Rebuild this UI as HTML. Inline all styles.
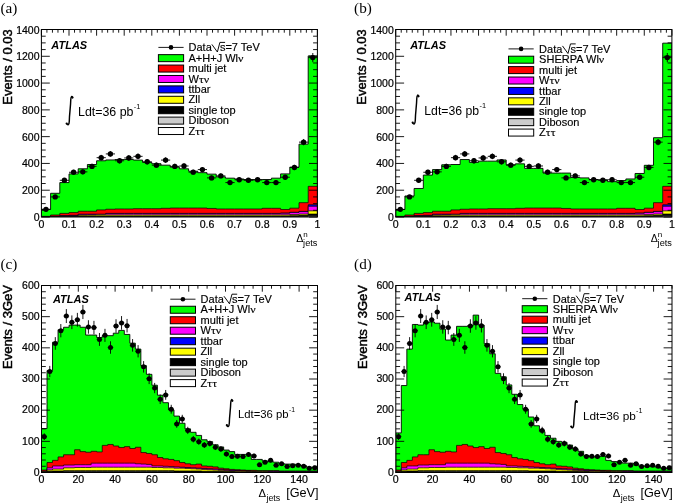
<!DOCTYPE html>
<html><head><meta charset="utf-8"><style>
html,body{margin:0;padding:0;background:#fff;}
svg{display:block;filter:blur(0.3px);}
text{font-family:"Liberation Sans",sans-serif;fill:#000;}
.tl{font-size:10px;stroke:#000;stroke-width:0.2px;}
.lg{font-size:10.3px;stroke:#000;stroke-width:0.15px;}
.at{font-size:10.3px;font-weight:bold;font-style:italic;}
.yt{font-size:12.4px;stroke:#000;stroke-width:0.45px;}
.gk{font-family:"Liberation Serif",serif;font-size:11.2px;}
.pl{font-family:"Liberation Serif",serif;font-size:15.2px;}
</style></head><body>
<svg width="675" height="504" viewBox="0 0 675 504">
<rect width="675" height="504" fill="#fff"/>
<clipPath id="ca"><rect x="41.4" y="29.5" width="276" height="187.5"/></clipPath>
<g clip-path="url(#ca)">
<path d="M41.4 217 L41.4 209.37 L50.6 209.37 L50.6 193.29 L59.8 193.29 L59.8 182.58 L69 182.58 L69 173.88 L78.2 173.88 L78.2 168.79 L87.4 168.79 L87.4 164.5 L96.6 164.5 L96.6 160.75 L105.8 160.75 L105.8 159.95 L115 159.95 L115 159.54 L124.2 159.54 L124.2 159.54 L133.4 159.54 L133.4 160.08 L142.6 160.08 L142.6 162.36 L151.8 162.36 L151.8 163.7 L161 163.7 L161 165.17 L170.2 165.17 L170.2 167.18 L179.4 167.18 L179.4 168.79 L188.6 168.79 L188.6 171.2 L197.8 171.2 L197.8 172.67 L207 172.67 L207 174.14 L216.2 174.14 L216.2 176.82 L225.4 176.82 L225.4 178.16 L234.6 178.16 L234.6 178.96 L243.8 178.96 L243.8 179.5 L253 179.5 L253 179.77 L262.2 179.77 L262.2 179.5 L271.4 179.5 L271.4 178.16 L280.6 178.16 L280.6 173.88 L289.8 173.88 L289.8 167.18 L299 167.18 L299 144.14 L308.2 144.14 L308.2 55.88 L317.4 55.88 L317.4 217 Z" fill="#00ff00" stroke="#000" stroke-width="0.9"/>
<path d="M41.4 217 L41.4 216.33 L50.6 216.33 L50.6 214.99 L59.8 214.99 L59.8 213.38 L69 213.38 L69 212.58 L78.2 212.58 L78.2 211.24 L87.4 211.24 L87.4 211.24 L96.6 211.24 L96.6 209.9 L105.8 209.9 L105.8 209.23 L115 209.23 L115 208.96 L124.2 208.96 L124.2 208.96 L133.4 208.96 L133.4 208.7 L142.6 208.7 L142.6 208.7 L151.8 208.7 L151.8 208.7 L161 208.7 L161 208.29 L170.2 208.29 L170.2 208.03 L179.4 208.03 L179.4 208.03 L188.6 208.03 L188.6 208.03 L197.8 208.03 L197.8 208.03 L207 208.03 L207 208.43 L216.2 208.43 L216.2 208.96 L225.4 208.96 L225.4 208.96 L234.6 208.96 L234.6 208.96 L243.8 208.96 L243.8 208.96 L253 208.96 L253 208.96 L262.2 208.96 L262.2 208.29 L271.4 208.29 L271.4 208.29 L280.6 208.29 L280.6 209.5 L289.8 209.5 L289.8 208.16 L299 208.16 L299 202.67 L308.2 202.67 L308.2 186.33 L317.4 186.33 L317.4 217 Z" fill="#ff0000" stroke="#000" stroke-width="0.7"/>
<path d="M41.4 217 L41.4 216.73 L50.6 216.73 L50.6 216.33 L59.8 216.33 L59.8 215.66 L69 215.66 L69 215.39 L78.2 215.39 L78.2 214.32 L87.4 214.32 L87.4 214.32 L96.6 214.32 L96.6 214.32 L105.8 214.32 L105.8 213.38 L115 213.38 L115 213.38 L124.2 213.38 L124.2 213.38 L133.4 213.38 L133.4 213.38 L142.6 213.38 L142.6 213.38 L151.8 213.38 L151.8 213.38 L161 213.38 L161 213.38 L170.2 213.38 L170.2 213.38 L179.4 213.38 L179.4 213.38 L188.6 213.38 L188.6 213.38 L197.8 213.38 L197.8 213.38 L207 213.38 L207 213.38 L216.2 213.38 L216.2 213.38 L225.4 213.38 L225.4 213.38 L234.6 213.38 L234.6 213.38 L243.8 213.38 L243.8 213.38 L253 213.38 L253 213.38 L262.2 213.38 L262.2 213.38 L271.4 213.38 L271.4 213.38 L280.6 213.38 L280.6 213.12 L289.8 213.12 L289.8 212.31 L299 212.31 L299 211.38 L308.2 211.38 L308.2 204.81 L317.4 204.81 L317.4 217 Z" fill="#0000ff" stroke="#000" stroke-width="0.7"/>
<path d="M41.4 217 L41.4 216.73 L50.6 216.73 L50.6 216.33 L59.8 216.33 L59.8 215.66 L69 215.66 L69 215.39 L78.2 215.39 L78.2 214.32 L87.4 214.32 L87.4 214.32 L96.6 214.32 L96.6 214.32 L105.8 214.32 L105.8 213.52 L115 213.52 L115 213.52 L124.2 213.52 L124.2 213.52 L133.4 213.52 L133.4 213.52 L142.6 213.52 L142.6 213.52 L151.8 213.52 L151.8 213.52 L161 213.52 L161 213.52 L170.2 213.52 L170.2 213.52 L179.4 213.52 L179.4 213.52 L188.6 213.52 L188.6 213.52 L197.8 213.52 L197.8 213.52 L207 213.52 L207 213.52 L216.2 213.52 L216.2 213.52 L225.4 213.52 L225.4 213.52 L234.6 213.52 L234.6 213.52 L243.8 213.52 L243.8 213.52 L253 213.52 L253 213.52 L262.2 213.52 L262.2 213.52 L271.4 213.52 L271.4 213.52 L280.6 213.52 L280.6 213.25 L289.8 213.25 L289.8 212.45 L299 212.45 L299 211.64 L308.2 211.64 L308.2 206.29 L317.4 206.29 L317.4 217 Z" fill="#ff00ff" stroke="#000" stroke-width="0.7"/>
<path d="M41.4 217 L41.4 216.87 L50.6 216.87 L50.6 216.6 L59.8 216.6 L59.8 216.2 L69 216.2 L69 215.93 L78.2 215.93 L78.2 215.12 L87.4 215.12 L87.4 214.99 L96.6 214.99 L96.6 214.86 L105.8 214.86 L105.8 214.86 L115 214.86 L115 214.86 L124.2 214.86 L124.2 214.86 L133.4 214.86 L133.4 214.86 L142.6 214.86 L142.6 214.86 L151.8 214.86 L151.8 214.86 L161 214.86 L161 214.86 L170.2 214.86 L170.2 214.86 L179.4 214.86 L179.4 214.86 L188.6 214.86 L188.6 214.86 L197.8 214.86 L197.8 214.86 L207 214.86 L207 214.86 L216.2 214.86 L216.2 214.86 L225.4 214.86 L225.4 214.86 L234.6 214.86 L234.6 214.86 L243.8 214.86 L243.8 214.86 L253 214.86 L253 214.86 L262.2 214.86 L262.2 214.86 L271.4 214.86 L271.4 214.86 L280.6 214.86 L280.6 214.86 L289.8 214.86 L289.8 214.46 L299 214.46 L299 214.05 L308.2 214.05 L308.2 210.84 L317.4 210.84 L317.4 217 Z" fill="#ffff00" stroke="#000" stroke-width="0.7"/>
<path d="M41.4 217 L41.4 216.87 L50.6 216.87 L50.6 216.73 L59.8 216.73 L59.8 216.46 L69 216.46 L69 216.33 L78.2 216.33 L78.2 215.93 L87.4 215.93 L87.4 215.93 L96.6 215.93 L96.6 215.93 L105.8 215.93 L105.8 215.93 L115 215.93 L115 215.93 L124.2 215.93 L124.2 215.93 L133.4 215.93 L133.4 215.93 L142.6 215.93 L142.6 215.93 L151.8 215.93 L151.8 215.93 L161 215.93 L161 215.93 L170.2 215.93 L170.2 215.93 L179.4 215.93 L179.4 215.93 L188.6 215.93 L188.6 215.93 L197.8 215.93 L197.8 215.93 L207 215.93 L207 215.93 L216.2 215.93 L216.2 215.93 L225.4 215.93 L225.4 215.93 L234.6 215.93 L234.6 215.93 L243.8 215.93 L243.8 215.93 L253 215.93 L253 215.93 L262.2 215.93 L262.2 215.93 L271.4 215.93 L271.4 215.93 L280.6 215.93 L280.6 215.93 L289.8 215.93 L289.8 215.66 L299 215.66 L299 215.26 L308.2 215.26 L308.2 214.05 L317.4 214.05 L317.4 217 Z" fill="#000000" stroke="#000" stroke-width="0.7"/>
<path d="M41.4 217 L41.4 217 L50.6 217 L50.6 216.87 L59.8 216.87 L59.8 216.6 L69 216.6 L69 216.6 L78.2 216.6 L78.2 216.6 L87.4 216.6 L87.4 216.6 L96.6 216.6 L96.6 216.6 L105.8 216.6 L105.8 216.6 L115 216.6 L115 216.6 L124.2 216.6 L124.2 216.6 L133.4 216.6 L133.4 216.6 L142.6 216.6 L142.6 216.6 L151.8 216.6 L151.8 216.6 L161 216.6 L161 216.6 L170.2 216.6 L170.2 216.6 L179.4 216.6 L179.4 216.6 L188.6 216.6 L188.6 216.6 L197.8 216.6 L197.8 216.6 L207 216.6 L207 216.6 L216.2 216.6 L216.2 216.6 L225.4 216.6 L225.4 216.6 L234.6 216.6 L234.6 216.6 L243.8 216.6 L243.8 216.6 L253 216.6 L253 216.6 L262.2 216.6 L262.2 216.6 L271.4 216.6 L271.4 216.6 L280.6 216.6 L280.6 216.6 L289.8 216.6 L289.8 216.46 L299 216.46 L299 216.33 L308.2 216.33 L308.2 215.66 L317.4 215.66 L317.4 217 Z" fill="#cccccc" stroke="#000" stroke-width="0.7"/>
<path d="M41.4 209.37H50.6M46 208.35V210.38" stroke="#000" stroke-width="0.9"/>
<circle cx="46" cy="209.37" r="2.7"/>
<path d="M50.6 196.91H59.8M55.2 195.27V198.55" stroke="#000" stroke-width="0.9"/>
<circle cx="55.2" cy="196.91" r="2.7"/>
<path d="M59.8 180.3H69M64.4 178.09V182.52" stroke="#000" stroke-width="0.9"/>
<circle cx="64.4" cy="180.3" r="2.7"/>
<path d="M69 172.27H78.2M73.6 169.82V174.72" stroke="#000" stroke-width="0.9"/>
<circle cx="73.6" cy="172.27" r="2.7"/>
<path d="M78.2 171.87H87.4M82.8 169.41V174.32" stroke="#000" stroke-width="0.9"/>
<circle cx="82.8" cy="171.87" r="2.7"/>
<path d="M87.4 166.38H96.6M92 163.77V168.98" stroke="#000" stroke-width="0.9"/>
<circle cx="92" cy="166.38" r="2.7"/>
<path d="M96.6 157.67H105.8M101.2 154.85V160.49" stroke="#000" stroke-width="0.9"/>
<circle cx="101.2" cy="157.67" r="2.7"/>
<path d="M105.8 153.92H115M110.4 151.01V156.83" stroke="#000" stroke-width="0.9"/>
<circle cx="110.4" cy="153.92" r="2.7"/>
<path d="M115 160.75H124.2M119.6 158.01V163.49" stroke="#000" stroke-width="0.9"/>
<circle cx="119.6" cy="160.75" r="2.7"/>
<path d="M124.2 157.94H133.4M128.8 155.12V160.75" stroke="#000" stroke-width="0.9"/>
<circle cx="128.8" cy="157.94" r="2.7"/>
<path d="M133.4 156.33H142.6M138 153.48V159.18" stroke="#000" stroke-width="0.9"/>
<circle cx="138" cy="156.33" r="2.7"/>
<path d="M142.6 161.82H151.8M147.2 159.1V164.54" stroke="#000" stroke-width="0.9"/>
<circle cx="147.2" cy="161.82" r="2.7"/>
<path d="M151.8 165.17H161M156.4 162.53V167.8" stroke="#000" stroke-width="0.9"/>
<circle cx="156.4" cy="165.17" r="2.7"/>
<path d="M161 160.08H170.2M165.6 157.32V162.84" stroke="#000" stroke-width="0.9"/>
<circle cx="165.6" cy="160.08" r="2.7"/>
<path d="M170.2 166.38H179.4M174.8 163.77V168.98" stroke="#000" stroke-width="0.9"/>
<circle cx="174.8" cy="166.38" r="2.7"/>
<path d="M179.4 165.97H188.6M184 163.36V168.59" stroke="#000" stroke-width="0.9"/>
<circle cx="184" cy="165.97" r="2.7"/>
<path d="M188.6 172.13H197.8M193.2 169.68V174.59" stroke="#000" stroke-width="0.9"/>
<circle cx="193.2" cy="172.13" r="2.7"/>
<path d="M197.8 169.59H207M202.4 167.07V172.11" stroke="#000" stroke-width="0.9"/>
<circle cx="202.4" cy="169.59" r="2.7"/>
<path d="M207 177.89H216.2M211.6 175.6V180.18" stroke="#000" stroke-width="0.9"/>
<circle cx="211.6" cy="177.89" r="2.7"/>
<path d="M216.2 175.88H225.4M220.8 173.54V178.23" stroke="#000" stroke-width="0.9"/>
<circle cx="220.8" cy="175.88" r="2.7"/>
<path d="M225.4 182.58H234.6M230 180.43V184.73" stroke="#000" stroke-width="0.9"/>
<circle cx="230" cy="182.58" r="2.7"/>
<path d="M234.6 179.77H243.8M239.2 177.53V182" stroke="#000" stroke-width="0.9"/>
<circle cx="239.2" cy="179.77" r="2.7"/>
<path d="M243.8 180.3H253M248.4 178.09V182.52" stroke="#000" stroke-width="0.9"/>
<circle cx="248.4" cy="180.3" r="2.7"/>
<path d="M253 179.77H262.2M257.6 177.53V182" stroke="#000" stroke-width="0.9"/>
<circle cx="257.6" cy="179.77" r="2.7"/>
<path d="M262.2 182.58H271.4M266.8 180.43V184.73" stroke="#000" stroke-width="0.9"/>
<circle cx="266.8" cy="182.58" r="2.7"/>
<path d="M271.4 182.58H280.6M276 180.43V184.73" stroke="#000" stroke-width="0.9"/>
<circle cx="276" cy="182.58" r="2.7"/>
<path d="M280.6 177.22H289.8M285.2 174.92V179.53" stroke="#000" stroke-width="0.9"/>
<circle cx="285.2" cy="177.22" r="2.7"/>
<path d="M289.8 167.45H299M294.4 164.87V170.02" stroke="#000" stroke-width="0.9"/>
<circle cx="294.4" cy="167.45" r="2.7"/>
<path d="M299 142.13H308.2M303.6 138.97V145.3" stroke="#000" stroke-width="0.9"/>
<circle cx="303.6" cy="142.13" r="2.7"/>
<path d="M308.2 57.62H317.4M312.8 53V62.25" stroke="#000" stroke-width="0.9"/>
<circle cx="312.8" cy="57.62" r="2.7"/>
</g>
<rect x="41.4" y="29.5" width="276" height="187.5" fill="none" stroke="#000" stroke-width="1"/>
<path d="M41.4 217h8.4 M317.4 217h-8.4 M41.4 210.3h4.3 M317.4 210.3h-4.3 M41.4 203.61h4.3 M317.4 203.61h-4.3 M41.4 196.91h4.3 M317.4 196.91h-4.3 M41.4 190.21h8.4 M317.4 190.21h-8.4 M41.4 183.52h4.3 M317.4 183.52h-4.3 M41.4 176.82h4.3 M317.4 176.82h-4.3 M41.4 170.12h4.3 M317.4 170.12h-4.3 M41.4 163.43h8.4 M317.4 163.43h-8.4 M41.4 156.73h4.3 M317.4 156.73h-4.3 M41.4 150.04h4.3 M317.4 150.04h-4.3 M41.4 143.34h4.3 M317.4 143.34h-4.3 M41.4 136.64h8.4 M317.4 136.64h-8.4 M41.4 129.95h4.3 M317.4 129.95h-4.3 M41.4 123.25h4.3 M317.4 123.25h-4.3 M41.4 116.55h4.3 M317.4 116.55h-4.3 M41.4 109.86h8.4 M317.4 109.86h-8.4 M41.4 103.16h4.3 M317.4 103.16h-4.3 M41.4 96.46h4.3 M317.4 96.46h-4.3 M41.4 89.77h4.3 M317.4 89.77h-4.3 M41.4 83.07h8.4 M317.4 83.07h-8.4 M41.4 76.38h4.3 M317.4 76.38h-4.3 M41.4 69.68h4.3 M317.4 69.68h-4.3 M41.4 62.98h4.3 M317.4 62.98h-4.3 M41.4 56.29h8.4 M317.4 56.29h-8.4 M41.4 49.59h4.3 M317.4 49.59h-4.3 M41.4 42.89h4.3 M317.4 42.89h-4.3 M41.4 36.2h4.3 M317.4 36.2h-4.3 M41.4 29.5h8.4 M317.4 29.5h-8.4 M41.4 29.5v6.2 M46.92 29.5v3.2 M52.44 29.5v3.2 M57.96 29.5v3.2 M63.48 29.5v3.2 M69 29.5v6.2 M74.52 29.5v3.2 M80.04 29.5v3.2 M85.56 29.5v3.2 M91.08 29.5v3.2 M96.6 29.5v6.2 M102.12 29.5v3.2 M107.64 29.5v3.2 M113.16 29.5v3.2 M118.68 29.5v3.2 M124.2 29.5v6.2 M129.72 29.5v3.2 M135.24 29.5v3.2 M140.76 29.5v3.2 M146.28 29.5v3.2 M151.8 29.5v6.2 M157.32 29.5v3.2 M162.84 29.5v3.2 M168.36 29.5v3.2 M173.88 29.5v3.2 M179.4 29.5v6.2 M184.92 29.5v3.2 M190.44 29.5v3.2 M195.96 29.5v3.2 M201.48 29.5v3.2 M207 29.5v6.2 M212.52 29.5v3.2 M218.04 29.5v3.2 M223.56 29.5v3.2 M229.08 29.5v3.2 M234.6 29.5v6.2 M240.12 29.5v3.2 M245.64 29.5v3.2 M251.16 29.5v3.2 M256.68 29.5v3.2 M262.2 29.5v6.2 M267.72 29.5v3.2 M273.24 29.5v3.2 M278.76 29.5v3.2 M284.28 29.5v3.2 M289.8 29.5v6.2 M295.32 29.5v3.2 M300.84 29.5v3.2 M306.36 29.5v3.2 M311.88 29.5v3.2 M317.4 29.5v6.2" stroke="#000" stroke-width="0.9" fill="none"/>
<text transform="translate(39.5 221) scale(1.05 1)" class="tl" text-anchor="end">0</text>
<text transform="translate(39.5 194.21) scale(1.05 1)" class="tl" text-anchor="end">200</text>
<text transform="translate(39.5 167.43) scale(1.05 1)" class="tl" text-anchor="end">400</text>
<text transform="translate(39.5 140.64) scale(1.05 1)" class="tl" text-anchor="end">600</text>
<text transform="translate(39.5 113.86) scale(1.05 1)" class="tl" text-anchor="end">800</text>
<text transform="translate(39.5 87.07) scale(1.05 1)" class="tl" text-anchor="end">1000</text>
<text transform="translate(39.5 60.29) scale(1.05 1)" class="tl" text-anchor="end">1200</text>
<text transform="translate(39.5 33.5) scale(1.05 1)" class="tl" text-anchor="end">1400</text>
<text transform="translate(41.4 227.6) scale(1.06 1)" class="tl" text-anchor="middle">0</text>
<text transform="translate(69 227.6) scale(1.06 1)" class="tl" text-anchor="middle">0.1</text>
<text transform="translate(96.6 227.6) scale(1.06 1)" class="tl" text-anchor="middle">0.2</text>
<text transform="translate(124.2 227.6) scale(1.06 1)" class="tl" text-anchor="middle">0.3</text>
<text transform="translate(151.8 227.6) scale(1.06 1)" class="tl" text-anchor="middle">0.4</text>
<text transform="translate(179.4 227.6) scale(1.06 1)" class="tl" text-anchor="middle">0.5</text>
<text transform="translate(207 227.6) scale(1.06 1)" class="tl" text-anchor="middle">0.6</text>
<text transform="translate(234.6 227.6) scale(1.06 1)" class="tl" text-anchor="middle">0.7</text>
<text transform="translate(262.2 227.6) scale(1.06 1)" class="tl" text-anchor="middle">0.8</text>
<text transform="translate(289.8 227.6) scale(1.06 1)" class="tl" text-anchor="middle">0.9</text>
<text transform="translate(317.4 227.6) scale(1.06 1)" class="tl" text-anchor="middle">1</text>
<clipPath id="cb"><rect x="395.7" y="29.5" width="276.2" height="187.5"/></clipPath>
<g clip-path="url(#cb)">
<path d="M395.7 217 L395.7 209.5 L404.91 209.5 L404.91 195.97 L414.11 195.97 L414.11 188.47 L423.32 188.47 L423.32 175.08 L432.53 175.08 L432.53 169.59 L441.73 169.59 L441.73 164.77 L450.94 164.77 L450.94 164.5 L460.15 164.5 L460.15 159.54 L469.35 159.54 L469.35 162.36 L478.56 162.36 L478.56 161.15 L487.77 161.15 L487.77 161.15 L496.97 161.15 L496.97 159.95 L506.18 159.95 L506.18 164.77 L515.39 164.77 L515.39 163.83 L524.59 163.83 L524.59 168.38 L533.8 168.38 L533.8 168.38 L543.01 168.38 L543.01 173.07 L552.21 173.07 L552.21 173.07 L561.42 173.07 L561.42 173.07 L570.63 173.07 L570.63 177.49 L579.83 177.49 L579.83 177.89 L589.04 177.89 L589.04 179.5 L598.25 179.5 L598.25 179.77 L607.45 179.77 L607.45 181.64 L616.66 181.64 L616.66 180.57 L625.87 180.57 L625.87 178.96 L635.07 178.96 L635.07 173.47 L644.28 173.47 L644.28 165.3 L653.49 165.3 L653.49 137.71 L662.69 137.71 L662.69 43.16 L671.9 43.16 L671.9 217 Z" fill="#00ff00" stroke="#000" stroke-width="0.9"/>
<path d="M395.7 217 L395.7 216.33 L404.91 216.33 L404.91 214.99 L414.11 214.99 L414.11 213.38 L423.32 213.38 L423.32 212.58 L432.53 212.58 L432.53 211.24 L441.73 211.24 L441.73 211.24 L450.94 211.24 L450.94 209.9 L460.15 209.9 L460.15 209.23 L469.35 209.23 L469.35 208.96 L478.56 208.96 L478.56 208.96 L487.77 208.96 L487.77 208.7 L496.97 208.7 L496.97 208.7 L506.18 208.7 L506.18 208.7 L515.39 208.7 L515.39 208.29 L524.59 208.29 L524.59 208.03 L533.8 208.03 L533.8 208.03 L543.01 208.03 L543.01 208.03 L552.21 208.03 L552.21 208.03 L561.42 208.03 L561.42 208.43 L570.63 208.43 L570.63 208.96 L579.83 208.96 L579.83 208.96 L589.04 208.96 L589.04 208.96 L598.25 208.96 L598.25 208.96 L607.45 208.96 L607.45 208.96 L616.66 208.96 L616.66 208.29 L625.87 208.29 L625.87 208.29 L635.07 208.29 L635.07 209.5 L644.28 209.5 L644.28 208.16 L653.49 208.16 L653.49 202.67 L662.69 202.67 L662.69 186.33 L671.9 186.33 L671.9 217 Z" fill="#ff0000" stroke="#000" stroke-width="0.7"/>
<path d="M395.7 217 L395.7 216.73 L404.91 216.73 L404.91 216.33 L414.11 216.33 L414.11 215.66 L423.32 215.66 L423.32 215.39 L432.53 215.39 L432.53 214.32 L441.73 214.32 L441.73 214.32 L450.94 214.32 L450.94 214.32 L460.15 214.32 L460.15 213.38 L469.35 213.38 L469.35 213.38 L478.56 213.38 L478.56 213.38 L487.77 213.38 L487.77 213.38 L496.97 213.38 L496.97 213.38 L506.18 213.38 L506.18 213.38 L515.39 213.38 L515.39 213.38 L524.59 213.38 L524.59 213.38 L533.8 213.38 L533.8 213.38 L543.01 213.38 L543.01 213.38 L552.21 213.38 L552.21 213.38 L561.42 213.38 L561.42 213.38 L570.63 213.38 L570.63 213.38 L579.83 213.38 L579.83 213.38 L589.04 213.38 L589.04 213.38 L598.25 213.38 L598.25 213.38 L607.45 213.38 L607.45 213.38 L616.66 213.38 L616.66 213.38 L625.87 213.38 L625.87 213.38 L635.07 213.38 L635.07 213.12 L644.28 213.12 L644.28 212.31 L653.49 212.31 L653.49 211.38 L662.69 211.38 L662.69 204.81 L671.9 204.81 L671.9 217 Z" fill="#0000ff" stroke="#000" stroke-width="0.7"/>
<path d="M395.7 217 L395.7 216.73 L404.91 216.73 L404.91 216.33 L414.11 216.33 L414.11 215.66 L423.32 215.66 L423.32 215.39 L432.53 215.39 L432.53 214.32 L441.73 214.32 L441.73 214.32 L450.94 214.32 L450.94 214.32 L460.15 214.32 L460.15 213.52 L469.35 213.52 L469.35 213.52 L478.56 213.52 L478.56 213.52 L487.77 213.52 L487.77 213.52 L496.97 213.52 L496.97 213.52 L506.18 213.52 L506.18 213.52 L515.39 213.52 L515.39 213.52 L524.59 213.52 L524.59 213.52 L533.8 213.52 L533.8 213.52 L543.01 213.52 L543.01 213.52 L552.21 213.52 L552.21 213.52 L561.42 213.52 L561.42 213.52 L570.63 213.52 L570.63 213.52 L579.83 213.52 L579.83 213.52 L589.04 213.52 L589.04 213.52 L598.25 213.52 L598.25 213.52 L607.45 213.52 L607.45 213.52 L616.66 213.52 L616.66 213.52 L625.87 213.52 L625.87 213.52 L635.07 213.52 L635.07 213.25 L644.28 213.25 L644.28 212.45 L653.49 212.45 L653.49 211.64 L662.69 211.64 L662.69 206.29 L671.9 206.29 L671.9 217 Z" fill="#ff00ff" stroke="#000" stroke-width="0.7"/>
<path d="M395.7 217 L395.7 216.87 L404.91 216.87 L404.91 216.6 L414.11 216.6 L414.11 216.2 L423.32 216.2 L423.32 215.93 L432.53 215.93 L432.53 215.12 L441.73 215.12 L441.73 214.99 L450.94 214.99 L450.94 214.86 L460.15 214.86 L460.15 214.86 L469.35 214.86 L469.35 214.86 L478.56 214.86 L478.56 214.86 L487.77 214.86 L487.77 214.86 L496.97 214.86 L496.97 214.86 L506.18 214.86 L506.18 214.86 L515.39 214.86 L515.39 214.86 L524.59 214.86 L524.59 214.86 L533.8 214.86 L533.8 214.86 L543.01 214.86 L543.01 214.86 L552.21 214.86 L552.21 214.86 L561.42 214.86 L561.42 214.86 L570.63 214.86 L570.63 214.86 L579.83 214.86 L579.83 214.86 L589.04 214.86 L589.04 214.86 L598.25 214.86 L598.25 214.86 L607.45 214.86 L607.45 214.86 L616.66 214.86 L616.66 214.86 L625.87 214.86 L625.87 214.86 L635.07 214.86 L635.07 214.86 L644.28 214.86 L644.28 214.46 L653.49 214.46 L653.49 214.05 L662.69 214.05 L662.69 210.84 L671.9 210.84 L671.9 217 Z" fill="#ffff00" stroke="#000" stroke-width="0.7"/>
<path d="M395.7 217 L395.7 216.87 L404.91 216.87 L404.91 216.73 L414.11 216.73 L414.11 216.46 L423.32 216.46 L423.32 216.33 L432.53 216.33 L432.53 215.93 L441.73 215.93 L441.73 215.93 L450.94 215.93 L450.94 215.93 L460.15 215.93 L460.15 215.93 L469.35 215.93 L469.35 215.93 L478.56 215.93 L478.56 215.93 L487.77 215.93 L487.77 215.93 L496.97 215.93 L496.97 215.93 L506.18 215.93 L506.18 215.93 L515.39 215.93 L515.39 215.93 L524.59 215.93 L524.59 215.93 L533.8 215.93 L533.8 215.93 L543.01 215.93 L543.01 215.93 L552.21 215.93 L552.21 215.93 L561.42 215.93 L561.42 215.93 L570.63 215.93 L570.63 215.93 L579.83 215.93 L579.83 215.93 L589.04 215.93 L589.04 215.93 L598.25 215.93 L598.25 215.93 L607.45 215.93 L607.45 215.93 L616.66 215.93 L616.66 215.93 L625.87 215.93 L625.87 215.93 L635.07 215.93 L635.07 215.93 L644.28 215.93 L644.28 215.66 L653.49 215.66 L653.49 215.26 L662.69 215.26 L662.69 214.05 L671.9 214.05 L671.9 217 Z" fill="#000000" stroke="#000" stroke-width="0.7"/>
<path d="M395.7 217 L395.7 217 L404.91 217 L404.91 216.87 L414.11 216.87 L414.11 216.6 L423.32 216.6 L423.32 216.6 L432.53 216.6 L432.53 216.6 L441.73 216.6 L441.73 216.6 L450.94 216.6 L450.94 216.6 L460.15 216.6 L460.15 216.6 L469.35 216.6 L469.35 216.6 L478.56 216.6 L478.56 216.6 L487.77 216.6 L487.77 216.6 L496.97 216.6 L496.97 216.6 L506.18 216.6 L506.18 216.6 L515.39 216.6 L515.39 216.6 L524.59 216.6 L524.59 216.6 L533.8 216.6 L533.8 216.6 L543.01 216.6 L543.01 216.6 L552.21 216.6 L552.21 216.6 L561.42 216.6 L561.42 216.6 L570.63 216.6 L570.63 216.6 L579.83 216.6 L579.83 216.6 L589.04 216.6 L589.04 216.6 L598.25 216.6 L598.25 216.6 L607.45 216.6 L607.45 216.6 L616.66 216.6 L616.66 216.6 L625.87 216.6 L625.87 216.6 L635.07 216.6 L635.07 216.6 L644.28 216.6 L644.28 216.46 L653.49 216.46 L653.49 216.33 L662.69 216.33 L662.69 215.66 L671.9 215.66 L671.9 217 Z" fill="#cccccc" stroke="#000" stroke-width="0.7"/>
<path d="M395.7 209.37H404.91M400.3 208.35V210.38" stroke="#000" stroke-width="0.9"/>
<circle cx="400.3" cy="209.37" r="2.7"/>
<path d="M404.91 196.91H414.11M409.51 195.27V198.55" stroke="#000" stroke-width="0.9"/>
<circle cx="409.51" cy="196.91" r="2.7"/>
<path d="M414.11 180.3H423.32M418.72 178.09V182.52" stroke="#000" stroke-width="0.9"/>
<circle cx="418.72" cy="180.3" r="2.7"/>
<path d="M423.32 172.27H432.53M427.92 169.82V174.72" stroke="#000" stroke-width="0.9"/>
<circle cx="427.92" cy="172.27" r="2.7"/>
<path d="M432.53 171.87H441.73M437.13 169.41V174.32" stroke="#000" stroke-width="0.9"/>
<circle cx="437.13" cy="171.87" r="2.7"/>
<path d="M441.73 166.38H450.94M446.34 163.77V168.98" stroke="#000" stroke-width="0.9"/>
<circle cx="446.34" cy="166.38" r="2.7"/>
<path d="M450.94 157.67H460.15M455.54 154.85V160.49" stroke="#000" stroke-width="0.9"/>
<circle cx="455.54" cy="157.67" r="2.7"/>
<path d="M460.15 153.92H469.35M464.75 151.01V156.83" stroke="#000" stroke-width="0.9"/>
<circle cx="464.75" cy="153.92" r="2.7"/>
<path d="M469.35 160.75H478.56M473.96 158.01V163.49" stroke="#000" stroke-width="0.9"/>
<circle cx="473.96" cy="160.75" r="2.7"/>
<path d="M478.56 157.94H487.77M483.16 155.12V160.75" stroke="#000" stroke-width="0.9"/>
<circle cx="483.16" cy="157.94" r="2.7"/>
<path d="M487.77 156.33H496.97M492.37 153.48V159.18" stroke="#000" stroke-width="0.9"/>
<circle cx="492.37" cy="156.33" r="2.7"/>
<path d="M496.97 161.82H506.18M501.58 159.1V164.54" stroke="#000" stroke-width="0.9"/>
<circle cx="501.58" cy="161.82" r="2.7"/>
<path d="M506.18 165.17H515.39M510.78 162.53V167.8" stroke="#000" stroke-width="0.9"/>
<circle cx="510.78" cy="165.17" r="2.7"/>
<path d="M515.39 160.08H524.59M519.99 157.32V162.84" stroke="#000" stroke-width="0.9"/>
<circle cx="519.99" cy="160.08" r="2.7"/>
<path d="M524.59 166.38H533.8M529.2 163.77V168.98" stroke="#000" stroke-width="0.9"/>
<circle cx="529.2" cy="166.38" r="2.7"/>
<path d="M533.8 165.97H543.01M538.4 163.36V168.59" stroke="#000" stroke-width="0.9"/>
<circle cx="538.4" cy="165.97" r="2.7"/>
<path d="M543.01 172.13H552.21M547.61 169.68V174.59" stroke="#000" stroke-width="0.9"/>
<circle cx="547.61" cy="172.13" r="2.7"/>
<path d="M552.21 169.59H561.42M556.82 167.07V172.11" stroke="#000" stroke-width="0.9"/>
<circle cx="556.82" cy="169.59" r="2.7"/>
<path d="M561.42 177.89H570.63M566.02 175.6V180.18" stroke="#000" stroke-width="0.9"/>
<circle cx="566.02" cy="177.89" r="2.7"/>
<path d="M570.63 175.88H579.83M575.23 173.54V178.23" stroke="#000" stroke-width="0.9"/>
<circle cx="575.23" cy="175.88" r="2.7"/>
<path d="M579.83 182.58H589.04M584.44 180.43V184.73" stroke="#000" stroke-width="0.9"/>
<circle cx="584.44" cy="182.58" r="2.7"/>
<path d="M589.04 179.77H598.25M593.64 177.53V182" stroke="#000" stroke-width="0.9"/>
<circle cx="593.64" cy="179.77" r="2.7"/>
<path d="M598.25 180.3H607.45M602.85 178.09V182.52" stroke="#000" stroke-width="0.9"/>
<circle cx="602.85" cy="180.3" r="2.7"/>
<path d="M607.45 179.77H616.66M612.06 177.53V182" stroke="#000" stroke-width="0.9"/>
<circle cx="612.06" cy="179.77" r="2.7"/>
<path d="M616.66 182.58H625.87M621.26 180.43V184.73" stroke="#000" stroke-width="0.9"/>
<circle cx="621.26" cy="182.58" r="2.7"/>
<path d="M625.87 182.58H635.07M630.47 180.43V184.73" stroke="#000" stroke-width="0.9"/>
<circle cx="630.47" cy="182.58" r="2.7"/>
<path d="M635.07 177.22H644.28M639.68 174.92V179.53" stroke="#000" stroke-width="0.9"/>
<circle cx="639.68" cy="177.22" r="2.7"/>
<path d="M644.28 167.45H653.49M648.88 164.87V170.02" stroke="#000" stroke-width="0.9"/>
<circle cx="648.88" cy="167.45" r="2.7"/>
<path d="M653.49 142.13H662.69M658.09 138.97V145.3" stroke="#000" stroke-width="0.9"/>
<circle cx="658.09" cy="142.13" r="2.7"/>
<path d="M662.69 57.62H671.9M667.3 53V62.25" stroke="#000" stroke-width="0.9"/>
<circle cx="667.3" cy="57.62" r="2.7"/>
</g>
<rect x="395.7" y="29.5" width="276.2" height="187.5" fill="none" stroke="#000" stroke-width="1"/>
<path d="M395.7 217h8.4 M671.9 217h-8.4 M395.7 210.3h4.3 M671.9 210.3h-4.3 M395.7 203.61h4.3 M671.9 203.61h-4.3 M395.7 196.91h4.3 M671.9 196.91h-4.3 M395.7 190.21h8.4 M671.9 190.21h-8.4 M395.7 183.52h4.3 M671.9 183.52h-4.3 M395.7 176.82h4.3 M671.9 176.82h-4.3 M395.7 170.12h4.3 M671.9 170.12h-4.3 M395.7 163.43h8.4 M671.9 163.43h-8.4 M395.7 156.73h4.3 M671.9 156.73h-4.3 M395.7 150.04h4.3 M671.9 150.04h-4.3 M395.7 143.34h4.3 M671.9 143.34h-4.3 M395.7 136.64h8.4 M671.9 136.64h-8.4 M395.7 129.95h4.3 M671.9 129.95h-4.3 M395.7 123.25h4.3 M671.9 123.25h-4.3 M395.7 116.55h4.3 M671.9 116.55h-4.3 M395.7 109.86h8.4 M671.9 109.86h-8.4 M395.7 103.16h4.3 M671.9 103.16h-4.3 M395.7 96.46h4.3 M671.9 96.46h-4.3 M395.7 89.77h4.3 M671.9 89.77h-4.3 M395.7 83.07h8.4 M671.9 83.07h-8.4 M395.7 76.38h4.3 M671.9 76.38h-4.3 M395.7 69.68h4.3 M671.9 69.68h-4.3 M395.7 62.98h4.3 M671.9 62.98h-4.3 M395.7 56.29h8.4 M671.9 56.29h-8.4 M395.7 49.59h4.3 M671.9 49.59h-4.3 M395.7 42.89h4.3 M671.9 42.89h-4.3 M395.7 36.2h4.3 M671.9 36.2h-4.3 M395.7 29.5h8.4 M671.9 29.5h-8.4 M395.7 29.5v6.2 M401.22 29.5v3.2 M406.75 29.5v3.2 M412.27 29.5v3.2 M417.8 29.5v3.2 M423.32 29.5v6.2 M428.84 29.5v3.2 M434.37 29.5v3.2 M439.89 29.5v3.2 M445.42 29.5v3.2 M450.94 29.5v6.2 M456.46 29.5v3.2 M461.99 29.5v3.2 M467.51 29.5v3.2 M473.04 29.5v3.2 M478.56 29.5v6.2 M484.08 29.5v3.2 M489.61 29.5v3.2 M495.13 29.5v3.2 M500.66 29.5v3.2 M506.18 29.5v6.2 M511.7 29.5v3.2 M517.23 29.5v3.2 M522.75 29.5v3.2 M528.28 29.5v3.2 M533.8 29.5v6.2 M539.32 29.5v3.2 M544.85 29.5v3.2 M550.37 29.5v3.2 M555.9 29.5v3.2 M561.42 29.5v6.2 M566.94 29.5v3.2 M572.47 29.5v3.2 M577.99 29.5v3.2 M583.52 29.5v3.2 M589.04 29.5v6.2 M594.56 29.5v3.2 M600.09 29.5v3.2 M605.61 29.5v3.2 M611.14 29.5v3.2 M616.66 29.5v6.2 M622.18 29.5v3.2 M627.71 29.5v3.2 M633.23 29.5v3.2 M638.76 29.5v3.2 M644.28 29.5v6.2 M649.8 29.5v3.2 M655.33 29.5v3.2 M660.85 29.5v3.2 M666.38 29.5v3.2 M671.9 29.5v6.2" stroke="#000" stroke-width="0.9" fill="none"/>
<text transform="translate(393.8 221) scale(1.05 1)" class="tl" text-anchor="end">0</text>
<text transform="translate(393.8 194.21) scale(1.05 1)" class="tl" text-anchor="end">200</text>
<text transform="translate(393.8 167.43) scale(1.05 1)" class="tl" text-anchor="end">400</text>
<text transform="translate(393.8 140.64) scale(1.05 1)" class="tl" text-anchor="end">600</text>
<text transform="translate(393.8 113.86) scale(1.05 1)" class="tl" text-anchor="end">800</text>
<text transform="translate(393.8 87.07) scale(1.05 1)" class="tl" text-anchor="end">1000</text>
<text transform="translate(393.8 60.29) scale(1.05 1)" class="tl" text-anchor="end">1200</text>
<text transform="translate(393.8 33.5) scale(1.05 1)" class="tl" text-anchor="end">1400</text>
<text transform="translate(395.7 227.6) scale(1.06 1)" class="tl" text-anchor="middle">0</text>
<text transform="translate(423.32 227.6) scale(1.06 1)" class="tl" text-anchor="middle">0.1</text>
<text transform="translate(450.94 227.6) scale(1.06 1)" class="tl" text-anchor="middle">0.2</text>
<text transform="translate(478.56 227.6) scale(1.06 1)" class="tl" text-anchor="middle">0.3</text>
<text transform="translate(506.18 227.6) scale(1.06 1)" class="tl" text-anchor="middle">0.4</text>
<text transform="translate(533.8 227.6) scale(1.06 1)" class="tl" text-anchor="middle">0.5</text>
<text transform="translate(561.42 227.6) scale(1.06 1)" class="tl" text-anchor="middle">0.6</text>
<text transform="translate(589.04 227.6) scale(1.06 1)" class="tl" text-anchor="middle">0.7</text>
<text transform="translate(616.66 227.6) scale(1.06 1)" class="tl" text-anchor="middle">0.8</text>
<text transform="translate(644.28 227.6) scale(1.06 1)" class="tl" text-anchor="middle">0.9</text>
<text transform="translate(671.9 227.6) scale(1.06 1)" class="tl" text-anchor="middle">1</text>
<clipPath id="cc"><rect x="41.5" y="285.5" width="276" height="187"/></clipPath>
<g clip-path="url(#cc)">
<path d="M41.5 472.5 L41.5 428.56 L47.02 428.56 L47.02 370.59 L52.54 370.59 L52.54 342.22 L58.06 342.22 L58.06 329.76 L63.58 329.76 L63.58 327.26 L69.1 327.26 L69.1 325.08 L74.62 325.08 L74.62 325.08 L80.14 325.08 L80.14 327.26 L85.66 327.26 L85.66 335.06 L91.18 335.06 L91.18 335.06 L96.7 335.06 L96.7 337.55 L102.22 337.55 L102.22 335.68 L107.74 335.68 L107.74 335.68 L113.26 335.68 L113.26 333.19 L118.78 333.19 L118.78 330.38 L124.3 330.38 L124.3 334.43 L129.82 334.43 L129.82 343.16 L135.34 343.16 L135.34 349.08 L140.86 349.08 L140.86 365.6 L146.38 365.6 L146.38 374.32 L151.9 374.32 L151.9 385.23 L157.42 385.23 L157.42 395.21 L162.94 395.21 L162.94 402.69 L168.46 402.69 L168.46 409.86 L173.98 409.86 L173.98 416.09 L179.5 416.09 L179.5 423.26 L185.02 423.26 L185.02 428.87 L190.54 428.87 L190.54 432.3 L196.06 432.3 L196.06 435.41 L201.58 435.41 L201.58 439.77 L207.1 439.77 L207.1 441.64 L212.62 441.64 L212.62 444.76 L218.14 444.76 L218.14 446.94 L223.66 446.94 L223.66 450.06 L229.18 450.06 L229.18 451.62 L234.7 451.62 L234.7 454.42 L240.22 454.42 L240.22 454.42 L245.74 454.42 L245.74 454.42 L251.26 454.42 L251.26 459.41 L256.78 459.41 L256.78 459.41 L262.3 459.41 L262.3 460.97 L267.82 460.97 L267.82 461.59 L273.34 461.59 L273.34 462.21 L278.86 462.21 L278.86 463.77 L284.38 463.77 L284.38 464.08 L289.9 464.08 L289.9 464.08 L295.42 464.08 L295.42 464.71 L300.94 464.71 L300.94 465.64 L306.46 465.64 L306.46 467.2 L311.98 467.2 L311.98 467.2 L317.5 467.2 L317.5 472.5 Z" fill="#00ff00" stroke="#000" stroke-width="0.9"/>
<path d="M41.5 472.5 L41.5 470.01 L47.02 470.01 L47.02 462.53 L52.54 462.53 L52.54 460.35 L58.06 460.35 L58.06 456.92 L63.58 456.92 L63.58 454.74 L69.1 454.74 L69.1 454.74 L74.62 454.74 L74.62 449.75 L80.14 449.75 L80.14 451.62 L85.66 451.62 L85.66 452.24 L91.18 452.24 L91.18 451.31 L96.7 451.31 L96.7 451.93 L102.22 451.93 L102.22 445.38 L107.74 445.38 L107.74 444.45 L113.26 444.45 L113.26 446.01 L118.78 446.01 L118.78 447.57 L124.3 447.57 L124.3 446.63 L129.82 446.63 L129.82 448.5 L135.34 448.5 L135.34 447.25 L140.86 447.25 L140.86 452.55 L146.38 452.55 L146.38 453.49 L151.9 453.49 L151.9 454.74 L157.42 454.74 L157.42 457.54 L162.94 457.54 L162.94 458.79 L168.46 458.79 L168.46 459.41 L173.98 459.41 L173.98 460.66 L179.5 460.66 L179.5 462.53 L185.02 462.53 L185.02 463.77 L190.54 463.77 L190.54 464.71 L196.06 464.71 L196.06 464.08 L201.58 464.08 L201.58 465.95 L207.1 465.95 L207.1 466.27 L212.62 466.27 L212.62 466.89 L218.14 466.89 L218.14 468.14 L223.66 468.14 L223.66 468.76 L229.18 468.76 L229.18 469.38 L234.7 469.38 L234.7 469.69 L240.22 469.69 L240.22 470.01 L245.74 470.01 L245.74 470.32 L251.26 470.32 L251.26 470.32 L256.78 470.32 L256.78 470.63 L262.3 470.63 L262.3 470.63 L267.82 470.63 L267.82 470.63 L273.34 470.63 L273.34 470.63 L278.86 470.63 L278.86 470.94 L284.38 470.94 L284.38 470.94 L289.9 470.94 L289.9 470.94 L295.42 470.94 L295.42 470.94 L300.94 470.94 L300.94 470.94 L306.46 470.94 L306.46 470.94 L311.98 470.94 L311.98 470.94 L317.5 470.94 L317.5 472.5 Z" fill="#ff0000" stroke="#000" stroke-width="0.7"/>
<path d="M41.5 472.5 L41.5 471.25 L47.02 471.25 L47.02 469.38 L52.54 469.38 L52.54 468.45 L58.06 468.45 L58.06 468.45 L63.58 468.45 L63.58 467.2 L69.1 467.2 L69.1 467.2 L74.62 467.2 L74.62 466.89 L80.14 466.89 L80.14 466.89 L85.66 466.89 L85.66 466.89 L91.18 466.89 L91.18 466.58 L96.7 466.58 L96.7 466.58 L102.22 466.58 L102.22 466.58 L107.74 466.58 L107.74 466.58 L113.26 466.58 L113.26 466.58 L118.78 466.58 L118.78 466.58 L124.3 466.58 L124.3 466.58 L129.82 466.58 L129.82 466.58 L135.34 466.58 L135.34 466.58 L140.86 466.58 L140.86 466.58 L146.38 466.58 L146.38 466.58 L151.9 466.58 L151.9 466.89 L157.42 466.89 L157.42 466.89 L162.94 466.89 L162.94 467.2 L168.46 467.2 L168.46 467.2 L173.98 467.2 L173.98 467.51 L179.5 467.51 L179.5 467.51 L185.02 467.51 L185.02 467.82 L190.54 467.82 L190.54 468.14 L196.06 468.14 L196.06 468.45 L201.58 468.45 L201.58 468.76 L207.1 468.76 L207.1 469.07 L212.62 469.07 L212.62 469.38 L218.14 469.38 L218.14 469.69 L223.66 469.69 L223.66 470.01 L229.18 470.01 L229.18 470.32 L234.7 470.32 L234.7 470.63 L240.22 470.63 L240.22 470.94 L245.74 470.94 L245.74 470.94 L251.26 470.94 L251.26 471.25 L256.78 471.25 L256.78 471.25 L262.3 471.25 L262.3 471.25 L267.82 471.25 L267.82 471.25 L273.34 471.25 L273.34 471.25 L278.86 471.25 L278.86 471.56 L284.38 471.56 L284.38 471.56 L289.9 471.56 L289.9 471.56 L295.42 471.56 L295.42 471.56 L300.94 471.56 L300.94 471.56 L306.46 471.56 L306.46 471.56 L311.98 471.56 L311.98 471.56 L317.5 471.56 L317.5 472.5 Z" fill="#0000ff" stroke="#000" stroke-width="0.7"/>
<path d="M41.5 472.5 L41.5 471.25 L47.02 471.25 L47.02 467.82 L52.54 467.82 L52.54 465.95 L58.06 465.95 L58.06 465.95 L63.58 465.95 L63.58 465.02 L69.1 465.02 L69.1 465.02 L74.62 465.02 L74.62 464.71 L80.14 464.71 L80.14 464.71 L85.66 464.71 L85.66 464.71 L91.18 464.71 L91.18 463.15 L96.7 463.15 L96.7 463.15 L102.22 463.15 L102.22 463.15 L107.74 463.15 L107.74 463.15 L113.26 463.15 L113.26 463.15 L118.78 463.15 L118.78 463.15 L124.3 463.15 L124.3 463.15 L129.82 463.15 L129.82 463.15 L135.34 463.15 L135.34 463.77 L140.86 463.77 L140.86 464.08 L146.38 464.08 L146.38 464.4 L151.9 464.4 L151.9 465.95 L157.42 465.95 L157.42 465.95 L162.94 465.95 L162.94 466.27 L168.46 466.27 L168.46 466.58 L173.98 466.58 L173.98 466.89 L179.5 466.89 L179.5 467.2 L185.02 467.2 L185.02 467.51 L190.54 467.51 L190.54 467.82 L196.06 467.82 L196.06 468.14 L201.58 468.14 L201.58 468.45 L207.1 468.45 L207.1 468.76 L212.62 468.76 L212.62 469.07 L218.14 469.07 L218.14 469.38 L223.66 469.38 L223.66 470.01 L229.18 470.01 L229.18 470.32 L234.7 470.32 L234.7 470.63 L240.22 470.63 L240.22 470.94 L245.74 470.94 L245.74 470.94 L251.26 470.94 L251.26 471.25 L256.78 471.25 L256.78 471.25 L262.3 471.25 L262.3 471.25 L267.82 471.25 L267.82 471.25 L273.34 471.25 L273.34 471.25 L278.86 471.25 L278.86 471.56 L284.38 471.56 L284.38 471.56 L289.9 471.56 L289.9 471.56 L295.42 471.56 L295.42 471.56 L300.94 471.56 L300.94 471.56 L306.46 471.56 L306.46 471.56 L311.98 471.56 L311.98 471.56 L317.5 471.56 L317.5 472.5 Z" fill="#ff00ff" stroke="#000" stroke-width="0.7"/>
<path d="M41.5 472.5 L41.5 471.56 L47.02 471.56 L47.02 470.01 L52.54 470.01 L52.54 469.07 L58.06 469.07 L58.06 469.07 L63.58 469.07 L63.58 467.82 L69.1 467.82 L69.1 467.82 L74.62 467.82 L74.62 467.51 L80.14 467.51 L80.14 467.51 L85.66 467.51 L85.66 467.51 L91.18 467.51 L91.18 467.2 L96.7 467.2 L96.7 467.2 L102.22 467.2 L102.22 467.2 L107.74 467.2 L107.74 467.2 L113.26 467.2 L113.26 467.2 L118.78 467.2 L118.78 467.2 L124.3 467.2 L124.3 467.2 L129.82 467.2 L129.82 467.2 L135.34 467.2 L135.34 467.2 L140.86 467.2 L140.86 467.2 L146.38 467.2 L146.38 467.2 L151.9 467.2 L151.9 467.51 L157.42 467.51 L157.42 467.51 L162.94 467.51 L162.94 467.82 L168.46 467.82 L168.46 467.82 L173.98 467.82 L173.98 468.14 L179.5 468.14 L179.5 468.14 L185.02 468.14 L185.02 468.45 L190.54 468.45 L190.54 468.76 L196.06 468.76 L196.06 469.07 L201.58 469.07 L201.58 469.38 L207.1 469.38 L207.1 469.69 L212.62 469.69 L212.62 470.01 L218.14 470.01 L218.14 470.32 L223.66 470.32 L223.66 470.63 L229.18 470.63 L229.18 470.94 L234.7 470.94 L234.7 471.25 L240.22 471.25 L240.22 471.25 L245.74 471.25 L245.74 471.56 L251.26 471.56 L251.26 471.56 L256.78 471.56 L256.78 471.56 L262.3 471.56 L262.3 471.56 L267.82 471.56 L267.82 471.88 L273.34 471.88 L273.34 471.88 L278.86 471.88 L278.86 471.88 L284.38 471.88 L284.38 471.88 L289.9 471.88 L289.9 471.88 L295.42 471.88 L295.42 471.88 L300.94 471.88 L300.94 471.88 L306.46 471.88 L306.46 471.88 L311.98 471.88 L311.98 471.88 L317.5 471.88 L317.5 472.5 Z" fill="#ffff00" stroke="#000" stroke-width="0.7"/>
<path d="M41.5 472.5 L41.5 471.88 L47.02 471.88 L47.02 471.25 L52.54 471.25 L52.54 470.94 L58.06 470.94 L58.06 470.94 L63.58 470.94 L63.58 470.63 L69.1 470.63 L69.1 470.63 L74.62 470.63 L74.62 470.63 L80.14 470.63 L80.14 470.63 L85.66 470.63 L85.66 470.63 L91.18 470.63 L91.18 470.63 L96.7 470.63 L96.7 470.63 L102.22 470.63 L102.22 470.63 L107.74 470.63 L107.74 470.63 L113.26 470.63 L113.26 470.63 L118.78 470.63 L118.78 470.63 L124.3 470.63 L124.3 470.63 L129.82 470.63 L129.82 470.63 L135.34 470.63 L135.34 470.63 L140.86 470.63 L140.86 470.63 L146.38 470.63 L146.38 470.63 L151.9 470.63 L151.9 470.63 L157.42 470.63 L157.42 470.63 L162.94 470.63 L162.94 470.63 L168.46 470.63 L168.46 470.63 L173.98 470.63 L173.98 470.94 L179.5 470.94 L179.5 470.94 L185.02 470.94 L185.02 470.94 L190.54 470.94 L190.54 470.94 L196.06 470.94 L196.06 470.94 L201.58 470.94 L201.58 471.25 L207.1 471.25 L207.1 471.25 L212.62 471.25 L212.62 471.25 L218.14 471.25 L218.14 471.25 L223.66 471.25 L223.66 471.56 L229.18 471.56 L229.18 471.56 L234.7 471.56 L234.7 471.88 L240.22 471.88 L240.22 471.88 L245.74 471.88 L245.74 471.88 L251.26 471.88 L251.26 471.88 L256.78 471.88 L256.78 472.19 L262.3 472.19 L262.3 472.19 L267.82 472.19 L267.82 472.19 L273.34 472.19 L273.34 472.19 L278.86 472.19 L278.86 472.19 L284.38 472.19 L284.38 472.19 L289.9 472.19 L289.9 472.19 L295.42 472.19 L295.42 472.19 L300.94 472.19 L300.94 472.19 L306.46 472.19 L306.46 472.19 L311.98 472.19 L311.98 472.19 L317.5 472.19 L317.5 472.5 Z" fill="#000000" stroke="#000" stroke-width="0.7"/>
<path d="M41.5 472.5 L41.5 472.5 L47.02 472.5 L47.02 472.19 L52.54 472.19 L52.54 471.88 L58.06 471.88 L58.06 471.88 L63.58 471.88 L63.58 471.56 L69.1 471.56 L69.1 471.56 L74.62 471.56 L74.62 471.56 L80.14 471.56 L80.14 471.56 L85.66 471.56 L85.66 471.56 L91.18 471.56 L91.18 471.56 L96.7 471.56 L96.7 471.56 L102.22 471.56 L102.22 471.56 L107.74 471.56 L107.74 471.56 L113.26 471.56 L113.26 471.56 L118.78 471.56 L118.78 471.56 L124.3 471.56 L124.3 471.56 L129.82 471.56 L129.82 471.56 L135.34 471.56 L135.34 471.56 L140.86 471.56 L140.86 471.56 L146.38 471.56 L146.38 471.56 L151.9 471.56 L151.9 471.56 L157.42 471.56 L157.42 471.56 L162.94 471.56 L162.94 471.56 L168.46 471.56 L168.46 471.56 L173.98 471.56 L173.98 471.88 L179.5 471.88 L179.5 471.88 L185.02 471.88 L185.02 471.88 L190.54 471.88 L190.54 471.88 L196.06 471.88 L196.06 471.88 L201.58 471.88 L201.58 472.19 L207.1 472.19 L207.1 472.19 L212.62 472.19 L212.62 472.19 L218.14 472.19 L218.14 472.19 L223.66 472.19 L223.66 472.5 L229.18 472.5 L229.18 472.5 L234.7 472.5 L234.7 472.5 L240.22 472.5 L240.22 472.5 L245.74 472.5 L245.74 472.5 L251.26 472.5 L251.26 472.5 L256.78 472.5 L256.78 472.5 L262.3 472.5 L262.3 472.5 L267.82 472.5 L267.82 472.5 L273.34 472.5 L273.34 472.5 L278.86 472.5 L278.86 472.5 L284.38 472.5 L284.38 472.5 L289.9 472.5 L289.9 472.5 L295.42 472.5 L295.42 472.5 L300.94 472.5 L300.94 472.5 L306.46 472.5 L306.46 472.5 L311.98 472.5 L311.98 472.5 L317.5 472.5 L317.5 472.5 Z" fill="#cccccc" stroke="#000" stroke-width="0.7"/>
<path d="M41.5 436.66H47.02M44.26 433.32V440" stroke="#000" stroke-width="0.9"/>
<circle cx="44.26" cy="436.66" r="2.5"/>
<path d="M47.02 371.52H52.54M49.78 365.91V377.13" stroke="#000" stroke-width="0.9"/>
<circle cx="49.78" cy="371.52" r="2.5"/>
<path d="M52.54 343.47H58.06M55.3 337.13V349.81" stroke="#000" stroke-width="0.9"/>
<circle cx="55.3" cy="343.47" r="2.5"/>
<path d="M58.06 330.69H63.58M60.82 324.04V337.34" stroke="#000" stroke-width="0.9"/>
<circle cx="60.82" cy="330.69" r="2.5"/>
<path d="M63.58 316.04H69.1M66.34 309.06V323.03" stroke="#000" stroke-width="0.9"/>
<circle cx="66.34" cy="316.04" r="2.5"/>
<path d="M69.1 322.28H74.62M71.86 315.43V329.12" stroke="#000" stroke-width="0.9"/>
<circle cx="71.86" cy="322.28" r="2.5"/>
<path d="M74.62 319.78H80.14M77.38 312.88V326.68" stroke="#000" stroke-width="0.9"/>
<circle cx="77.38" cy="319.78" r="2.5"/>
<path d="M80.14 311.99H85.66M82.9 304.92V319.06" stroke="#000" stroke-width="0.9"/>
<circle cx="82.9" cy="311.99" r="2.5"/>
<path d="M85.66 326.95H91.18M88.42 320.22V333.69" stroke="#000" stroke-width="0.9"/>
<circle cx="88.42" cy="326.95" r="2.5"/>
<path d="M91.18 327.58H96.7M93.94 320.85V334.3" stroke="#000" stroke-width="0.9"/>
<circle cx="93.94" cy="327.58" r="2.5"/>
<path d="M96.7 339.42H102.22M99.46 332.98V345.86" stroke="#000" stroke-width="0.9"/>
<circle cx="99.46" cy="339.42" r="2.5"/>
<path d="M102.22 335.37H107.74M104.98 328.83V341.9" stroke="#000" stroke-width="0.9"/>
<circle cx="104.98" cy="335.37" r="2.5"/>
<path d="M107.74 347.52H113.26M110.5 341.28V353.76" stroke="#000" stroke-width="0.9"/>
<circle cx="110.5" cy="347.52" r="2.5"/>
<path d="M113.26 326.02H118.78M116.02 319.26V332.77" stroke="#000" stroke-width="0.9"/>
<circle cx="116.02" cy="326.02" r="2.5"/>
<path d="M118.78 322.9H124.3M121.54 316.07V329.73" stroke="#000" stroke-width="0.9"/>
<circle cx="121.54" cy="322.9" r="2.5"/>
<path d="M124.3 325.71H129.82M127.06 318.94V332.47" stroke="#000" stroke-width="0.9"/>
<circle cx="127.06" cy="325.71" r="2.5"/>
<path d="M129.82 345.34H135.34M132.58 339.04V351.64" stroke="#000" stroke-width="0.9"/>
<circle cx="132.58" cy="345.34" r="2.5"/>
<path d="M135.34 351.26H140.86M138.1 345.11V357.41" stroke="#000" stroke-width="0.9"/>
<circle cx="138.1" cy="351.26" r="2.5"/>
<path d="M140.86 366.85H146.38M143.62 361.11V372.58" stroke="#000" stroke-width="0.9"/>
<circle cx="143.62" cy="366.85" r="2.5"/>
<path d="M146.38 378.69H151.9M149.14 373.28V384.1" stroke="#000" stroke-width="0.9"/>
<circle cx="149.14" cy="378.69" r="2.5"/>
<path d="M151.9 388.04H157.42M154.66 382.91V393.17" stroke="#000" stroke-width="0.9"/>
<circle cx="154.66" cy="388.04" r="2.5"/>
<path d="M157.42 399.26H162.94M160.18 394.48V404.04" stroke="#000" stroke-width="0.9"/>
<circle cx="160.18" cy="399.26" r="2.5"/>
<path d="M162.94 394.89H168.46M165.7 389.98V399.81" stroke="#000" stroke-width="0.9"/>
<circle cx="165.7" cy="394.89" r="2.5"/>
<path d="M168.46 409.23H173.98M171.22 404.79V413.67" stroke="#000" stroke-width="0.9"/>
<circle cx="171.22" cy="409.23" r="2.5"/>
<path d="M173.98 423.88H179.5M176.74 419.99V427.77" stroke="#000" stroke-width="0.9"/>
<circle cx="176.74" cy="423.88" r="2.5"/>
<path d="M179.5 418.89H185.02M182.26 414.81V422.98" stroke="#000" stroke-width="0.9"/>
<circle cx="182.26" cy="418.89" r="2.5"/>
<path d="M185.02 430.43H190.54M187.78 426.8V434.05" stroke="#000" stroke-width="0.9"/>
<circle cx="187.78" cy="430.43" r="2.5"/>
<path d="M190.54 439.15H196.06M193.3 435.93V442.38" stroke="#000" stroke-width="0.9"/>
<circle cx="193.3" cy="439.15" r="2.5"/>
<path d="M196.06 441.64H201.58M198.82 438.54V444.75" stroke="#000" stroke-width="0.9"/>
<circle cx="198.82" cy="441.64" r="2.5"/>
<path d="M201.58 445.07H207.1M204.34 442.15V448" stroke="#000" stroke-width="0.9"/>
<circle cx="204.34" cy="445.07" r="2.5"/>
<path d="M207.1 443.51H212.62M209.86 440.51V446.52" stroke="#000" stroke-width="0.9"/>
<circle cx="209.86" cy="443.51" r="2.5"/>
<path d="M212.62 447.25H218.14M215.38 444.45V450.06" stroke="#000" stroke-width="0.9"/>
<circle cx="215.38" cy="447.25" r="2.5"/>
<path d="M218.14 449.12H223.66M220.9 446.43V451.82" stroke="#000" stroke-width="0.9"/>
<circle cx="220.9" cy="449.12" r="2.5"/>
<path d="M223.66 454.11H229.18M226.42 451.72V456.51" stroke="#000" stroke-width="0.9"/>
<circle cx="226.42" cy="454.11" r="2.5"/>
<path d="M229.18 456.61H234.7M231.94 454.38V458.83" stroke="#000" stroke-width="0.9"/>
<circle cx="231.94" cy="456.61" r="2.5"/>
<path d="M234.7 456.29H240.22M237.46 454.05V458.54" stroke="#000" stroke-width="0.9"/>
<circle cx="237.46" cy="456.29" r="2.5"/>
<path d="M240.22 456.61H245.74M242.98 454.38V458.83" stroke="#000" stroke-width="0.9"/>
<circle cx="242.98" cy="456.61" r="2.5"/>
<path d="M245.74 454.42H251.26M248.5 452.05V456.8" stroke="#000" stroke-width="0.9"/>
<circle cx="248.5" cy="454.42" r="2.5"/>
<path d="M251.26 455.98H256.78M254.02 453.71V458.25" stroke="#000" stroke-width="0.9"/>
<circle cx="254.02" cy="455.98" r="2.5"/>
<path d="M256.78 464.71H262.3M259.54 463.15V466.27" stroke="#000" stroke-width="0.9"/>
<circle cx="259.54" cy="464.71" r="2.5"/>
<path d="M262.3 462.21H267.82M265.06 460.42V464.01" stroke="#000" stroke-width="0.9"/>
<circle cx="265.06" cy="462.21" r="2.5"/>
<path d="M267.82 460.35H273.34M270.58 458.4V462.29" stroke="#000" stroke-width="0.9"/>
<circle cx="270.58" cy="460.35" r="2.5"/>
<path d="M273.34 465.33H278.86M276.1 463.84V466.83" stroke="#000" stroke-width="0.9"/>
<circle cx="276.1" cy="465.33" r="2.5"/>
<path d="M278.86 463.77H284.38M281.62 462.12V465.42" stroke="#000" stroke-width="0.9"/>
<circle cx="281.62" cy="463.77" r="2.5"/>
<path d="M284.38 466.58H289.9M287.14 465.22V467.94" stroke="#000" stroke-width="0.9"/>
<circle cx="287.14" cy="466.58" r="2.5"/>
<path d="M289.9 465.64H295.42M292.66 464.18V467.11" stroke="#000" stroke-width="0.9"/>
<circle cx="292.66" cy="465.64" r="2.5"/>
<path d="M295.42 465.33H300.94M298.18 463.84V466.83" stroke="#000" stroke-width="0.9"/>
<circle cx="298.18" cy="465.33" r="2.5"/>
<path d="M300.94 466.27H306.46M303.7 464.87V467.66" stroke="#000" stroke-width="0.9"/>
<circle cx="303.7" cy="466.27" r="2.5"/>
<path d="M306.46 468.14H311.98M309.22 466.97V469.3" stroke="#000" stroke-width="0.9"/>
<circle cx="309.22" cy="468.14" r="2.5"/>
<path d="M311.98 467.82H317.5M314.74 466.62V469.03" stroke="#000" stroke-width="0.9"/>
<circle cx="314.74" cy="467.82" r="2.5"/>
</g>
<rect x="41.5" y="285.5" width="276" height="187" fill="none" stroke="#000" stroke-width="1"/>
<path d="M41.5 472.5h8.4 M317.5 472.5h-8.4 M41.5 466.27h4.3 M317.5 466.27h-4.3 M41.5 460.03h4.3 M317.5 460.03h-4.3 M41.5 453.8h4.3 M317.5 453.8h-4.3 M41.5 447.57h4.3 M317.5 447.57h-4.3 M41.5 441.33h8.4 M317.5 441.33h-8.4 M41.5 435.1h4.3 M317.5 435.1h-4.3 M41.5 428.87h4.3 M317.5 428.87h-4.3 M41.5 422.63h4.3 M317.5 422.63h-4.3 M41.5 416.4h4.3 M317.5 416.4h-4.3 M41.5 410.17h8.4 M317.5 410.17h-8.4 M41.5 403.93h4.3 M317.5 403.93h-4.3 M41.5 397.7h4.3 M317.5 397.7h-4.3 M41.5 391.47h4.3 M317.5 391.47h-4.3 M41.5 385.23h4.3 M317.5 385.23h-4.3 M41.5 379h8.4 M317.5 379h-8.4 M41.5 372.77h4.3 M317.5 372.77h-4.3 M41.5 366.53h4.3 M317.5 366.53h-4.3 M41.5 360.3h4.3 M317.5 360.3h-4.3 M41.5 354.07h4.3 M317.5 354.07h-4.3 M41.5 347.83h8.4 M317.5 347.83h-8.4 M41.5 341.6h4.3 M317.5 341.6h-4.3 M41.5 335.37h4.3 M317.5 335.37h-4.3 M41.5 329.13h4.3 M317.5 329.13h-4.3 M41.5 322.9h4.3 M317.5 322.9h-4.3 M41.5 316.67h8.4 M317.5 316.67h-8.4 M41.5 310.43h4.3 M317.5 310.43h-4.3 M41.5 304.2h4.3 M317.5 304.2h-4.3 M41.5 297.97h4.3 M317.5 297.97h-4.3 M41.5 291.73h4.3 M317.5 291.73h-4.3 M41.5 285.5h8.4 M317.5 285.5h-8.4 M41.5 285.5v6.2 M50.7 285.5v3.2 M59.9 285.5v3.2 M69.1 285.5v3.2 M78.3 285.5v6.2 M87.5 285.5v3.2 M96.7 285.5v3.2 M105.9 285.5v3.2 M115.1 285.5v6.2 M124.3 285.5v3.2 M133.5 285.5v3.2 M142.7 285.5v3.2 M151.9 285.5v6.2 M161.1 285.5v3.2 M170.3 285.5v3.2 M179.5 285.5v3.2 M188.7 285.5v6.2 M197.9 285.5v3.2 M207.1 285.5v3.2 M216.3 285.5v3.2 M225.5 285.5v6.2 M234.7 285.5v3.2 M243.9 285.5v3.2 M253.1 285.5v3.2 M262.3 285.5v6.2 M271.5 285.5v3.2 M280.7 285.5v3.2 M289.9 285.5v3.2 M299.1 285.5v6.2 M308.3 285.5v3.2 M317.5 285.5v3.2" stroke="#000" stroke-width="0.9" fill="none"/>
<text transform="translate(39.6 475.7) scale(1.05 1)" class="tl" text-anchor="end">0</text>
<text transform="translate(39.6 444.53) scale(1.05 1)" class="tl" text-anchor="end">100</text>
<text transform="translate(39.6 413.37) scale(1.05 1)" class="tl" text-anchor="end">200</text>
<text transform="translate(39.6 382.2) scale(1.05 1)" class="tl" text-anchor="end">300</text>
<text transform="translate(39.6 351.03) scale(1.05 1)" class="tl" text-anchor="end">400</text>
<text transform="translate(39.6 319.87) scale(1.05 1)" class="tl" text-anchor="end">500</text>
<text transform="translate(39.6 288.7) scale(1.05 1)" class="tl" text-anchor="end">600</text>
<text transform="translate(41.5 482.7) scale(1.06 1)" class="tl" text-anchor="middle">0</text>
<text transform="translate(78.3 482.7) scale(1.06 1)" class="tl" text-anchor="middle">20</text>
<text transform="translate(115.1 482.7) scale(1.06 1)" class="tl" text-anchor="middle">40</text>
<text transform="translate(151.9 482.7) scale(1.06 1)" class="tl" text-anchor="middle">60</text>
<text transform="translate(188.7 482.7) scale(1.06 1)" class="tl" text-anchor="middle">80</text>
<text transform="translate(225.5 482.7) scale(1.06 1)" class="tl" text-anchor="middle">100</text>
<text transform="translate(262.3 482.7) scale(1.06 1)" class="tl" text-anchor="middle">120</text>
<text transform="translate(299.1 482.7) scale(1.06 1)" class="tl" text-anchor="middle">140</text>
<clipPath id="cd"><rect x="395.8" y="285.5" width="276.2" height="187"/></clipPath>
<g clip-path="url(#cd)">
<path d="M395.8 472.5 L395.8 432.92 L401.32 432.92 L401.32 385.55 L406.85 385.55 L406.85 349.08 L412.37 349.08 L412.37 324.46 L417.9 324.46 L417.9 325.08 L423.42 325.08 L423.42 322.59 L428.94 322.59 L428.94 321.97 L434.47 321.97 L434.47 323.21 L439.99 323.21 L439.99 329.13 L445.52 329.13 L445.52 340.04 L451.04 340.04 L451.04 335.06 L456.56 335.06 L456.56 326.33 L462.09 326.33 L462.09 326.33 L467.61 326.33 L467.61 325.71 L473.14 325.71 L473.14 315.11 L478.66 315.11 L478.66 325.08 L484.18 325.08 L484.18 343.78 L489.71 343.78 L489.71 353.75 L495.23 353.75 L495.23 373.39 L500.76 373.39 L500.76 376.82 L506.28 376.82 L506.28 384.92 L511.8 384.92 L511.8 394.27 L517.33 394.27 L517.33 404.56 L522.85 404.56 L522.85 409.23 L528.38 409.23 L528.38 417.02 L533.9 417.02 L533.9 425.75 L539.42 425.75 L539.42 431.67 L544.95 431.67 L544.95 435.41 L550.47 435.41 L550.47 438.22 L556 438.22 L556 441.33 L561.52 441.33 L561.52 442.27 L567.04 442.27 L567.04 445.07 L572.57 445.07 L572.57 448.81 L578.09 448.81 L578.09 451.31 L583.62 451.31 L583.62 455.36 L589.14 455.36 L589.14 456.92 L594.66 456.92 L594.66 456.92 L600.19 456.92 L600.19 455.98 L605.71 455.98 L605.71 460.35 L611.24 460.35 L611.24 461.59 L616.76 461.59 L616.76 462.21 L622.28 462.21 L622.28 463.15 L627.81 463.15 L627.81 463.15 L633.33 463.15 L633.33 464.08 L638.86 464.08 L638.86 466.27 L644.38 466.27 L644.38 466.27 L649.9 466.27 L649.9 466.58 L655.43 466.58 L655.43 467.2 L660.95 467.2 L660.95 468.76 L666.48 468.76 L666.48 468.14 L672 468.14 L672 472.5 Z" fill="#00ff00" stroke="#000" stroke-width="0.9"/>
<path d="M395.8 472.5 L395.8 470.01 L401.32 470.01 L401.32 462.53 L406.85 462.53 L406.85 460.35 L412.37 460.35 L412.37 456.92 L417.9 456.92 L417.9 454.74 L423.42 454.74 L423.42 454.74 L428.94 454.74 L428.94 449.75 L434.47 449.75 L434.47 451.62 L439.99 451.62 L439.99 452.24 L445.52 452.24 L445.52 451.31 L451.04 451.31 L451.04 451.93 L456.56 451.93 L456.56 445.38 L462.09 445.38 L462.09 444.45 L467.61 444.45 L467.61 446.01 L473.14 446.01 L473.14 447.57 L478.66 447.57 L478.66 446.63 L484.18 446.63 L484.18 448.5 L489.71 448.5 L489.71 447.25 L495.23 447.25 L495.23 452.55 L500.76 452.55 L500.76 453.49 L506.28 453.49 L506.28 454.74 L511.8 454.74 L511.8 457.54 L517.33 457.54 L517.33 458.79 L522.85 458.79 L522.85 459.41 L528.38 459.41 L528.38 460.66 L533.9 460.66 L533.9 462.53 L539.42 462.53 L539.42 463.77 L544.95 463.77 L544.95 464.71 L550.47 464.71 L550.47 464.08 L556 464.08 L556 465.95 L561.52 465.95 L561.52 466.27 L567.04 466.27 L567.04 466.89 L572.57 466.89 L572.57 468.14 L578.09 468.14 L578.09 468.76 L583.62 468.76 L583.62 469.38 L589.14 469.38 L589.14 469.69 L594.66 469.69 L594.66 470.01 L600.19 470.01 L600.19 470.32 L605.71 470.32 L605.71 470.32 L611.24 470.32 L611.24 470.63 L616.76 470.63 L616.76 470.63 L622.28 470.63 L622.28 470.63 L627.81 470.63 L627.81 470.63 L633.33 470.63 L633.33 470.94 L638.86 470.94 L638.86 470.94 L644.38 470.94 L644.38 470.94 L649.9 470.94 L649.9 470.94 L655.43 470.94 L655.43 470.94 L660.95 470.94 L660.95 470.94 L666.48 470.94 L666.48 470.94 L672 470.94 L672 472.5 Z" fill="#ff0000" stroke="#000" stroke-width="0.7"/>
<path d="M395.8 472.5 L395.8 471.25 L401.32 471.25 L401.32 469.38 L406.85 469.38 L406.85 468.45 L412.37 468.45 L412.37 468.45 L417.9 468.45 L417.9 467.2 L423.42 467.2 L423.42 467.2 L428.94 467.2 L428.94 466.89 L434.47 466.89 L434.47 466.89 L439.99 466.89 L439.99 466.89 L445.52 466.89 L445.52 466.58 L451.04 466.58 L451.04 466.58 L456.56 466.58 L456.56 466.58 L462.09 466.58 L462.09 466.58 L467.61 466.58 L467.61 466.58 L473.14 466.58 L473.14 466.58 L478.66 466.58 L478.66 466.58 L484.18 466.58 L484.18 466.58 L489.71 466.58 L489.71 466.58 L495.23 466.58 L495.23 466.58 L500.76 466.58 L500.76 466.58 L506.28 466.58 L506.28 466.89 L511.8 466.89 L511.8 466.89 L517.33 466.89 L517.33 467.2 L522.85 467.2 L522.85 467.2 L528.38 467.2 L528.38 467.51 L533.9 467.51 L533.9 467.51 L539.42 467.51 L539.42 467.82 L544.95 467.82 L544.95 468.14 L550.47 468.14 L550.47 468.45 L556 468.45 L556 468.76 L561.52 468.76 L561.52 469.07 L567.04 469.07 L567.04 469.38 L572.57 469.38 L572.57 469.69 L578.09 469.69 L578.09 470.01 L583.62 470.01 L583.62 470.32 L589.14 470.32 L589.14 470.63 L594.66 470.63 L594.66 470.94 L600.19 470.94 L600.19 470.94 L605.71 470.94 L605.71 471.25 L611.24 471.25 L611.24 471.25 L616.76 471.25 L616.76 471.25 L622.28 471.25 L622.28 471.25 L627.81 471.25 L627.81 471.25 L633.33 471.25 L633.33 471.56 L638.86 471.56 L638.86 471.56 L644.38 471.56 L644.38 471.56 L649.9 471.56 L649.9 471.56 L655.43 471.56 L655.43 471.56 L660.95 471.56 L660.95 471.56 L666.48 471.56 L666.48 471.56 L672 471.56 L672 472.5 Z" fill="#0000ff" stroke="#000" stroke-width="0.7"/>
<path d="M395.8 472.5 L395.8 471.25 L401.32 471.25 L401.32 467.82 L406.85 467.82 L406.85 465.95 L412.37 465.95 L412.37 465.95 L417.9 465.95 L417.9 465.02 L423.42 465.02 L423.42 465.02 L428.94 465.02 L428.94 464.71 L434.47 464.71 L434.47 464.71 L439.99 464.71 L439.99 464.71 L445.52 464.71 L445.52 463.15 L451.04 463.15 L451.04 463.15 L456.56 463.15 L456.56 463.15 L462.09 463.15 L462.09 463.15 L467.61 463.15 L467.61 463.15 L473.14 463.15 L473.14 463.15 L478.66 463.15 L478.66 463.15 L484.18 463.15 L484.18 463.15 L489.71 463.15 L489.71 463.77 L495.23 463.77 L495.23 464.08 L500.76 464.08 L500.76 464.4 L506.28 464.4 L506.28 465.95 L511.8 465.95 L511.8 465.95 L517.33 465.95 L517.33 466.27 L522.85 466.27 L522.85 466.58 L528.38 466.58 L528.38 466.89 L533.9 466.89 L533.9 467.2 L539.42 467.2 L539.42 467.51 L544.95 467.51 L544.95 467.82 L550.47 467.82 L550.47 468.14 L556 468.14 L556 468.45 L561.52 468.45 L561.52 468.76 L567.04 468.76 L567.04 469.07 L572.57 469.07 L572.57 469.38 L578.09 469.38 L578.09 470.01 L583.62 470.01 L583.62 470.32 L589.14 470.32 L589.14 470.63 L594.66 470.63 L594.66 470.94 L600.19 470.94 L600.19 470.94 L605.71 470.94 L605.71 471.25 L611.24 471.25 L611.24 471.25 L616.76 471.25 L616.76 471.25 L622.28 471.25 L622.28 471.25 L627.81 471.25 L627.81 471.25 L633.33 471.25 L633.33 471.56 L638.86 471.56 L638.86 471.56 L644.38 471.56 L644.38 471.56 L649.9 471.56 L649.9 471.56 L655.43 471.56 L655.43 471.56 L660.95 471.56 L660.95 471.56 L666.48 471.56 L666.48 471.56 L672 471.56 L672 472.5 Z" fill="#ff00ff" stroke="#000" stroke-width="0.7"/>
<path d="M395.8 472.5 L395.8 471.56 L401.32 471.56 L401.32 470.01 L406.85 470.01 L406.85 469.07 L412.37 469.07 L412.37 469.07 L417.9 469.07 L417.9 467.82 L423.42 467.82 L423.42 467.82 L428.94 467.82 L428.94 467.51 L434.47 467.51 L434.47 467.51 L439.99 467.51 L439.99 467.51 L445.52 467.51 L445.52 467.2 L451.04 467.2 L451.04 467.2 L456.56 467.2 L456.56 467.2 L462.09 467.2 L462.09 467.2 L467.61 467.2 L467.61 467.2 L473.14 467.2 L473.14 467.2 L478.66 467.2 L478.66 467.2 L484.18 467.2 L484.18 467.2 L489.71 467.2 L489.71 467.2 L495.23 467.2 L495.23 467.2 L500.76 467.2 L500.76 467.2 L506.28 467.2 L506.28 467.51 L511.8 467.51 L511.8 467.51 L517.33 467.51 L517.33 467.82 L522.85 467.82 L522.85 467.82 L528.38 467.82 L528.38 468.14 L533.9 468.14 L533.9 468.14 L539.42 468.14 L539.42 468.45 L544.95 468.45 L544.95 468.76 L550.47 468.76 L550.47 469.07 L556 469.07 L556 469.38 L561.52 469.38 L561.52 469.69 L567.04 469.69 L567.04 470.01 L572.57 470.01 L572.57 470.32 L578.09 470.32 L578.09 470.63 L583.62 470.63 L583.62 470.94 L589.14 470.94 L589.14 471.25 L594.66 471.25 L594.66 471.25 L600.19 471.25 L600.19 471.56 L605.71 471.56 L605.71 471.56 L611.24 471.56 L611.24 471.56 L616.76 471.56 L616.76 471.56 L622.28 471.56 L622.28 471.88 L627.81 471.88 L627.81 471.88 L633.33 471.88 L633.33 471.88 L638.86 471.88 L638.86 471.88 L644.38 471.88 L644.38 471.88 L649.9 471.88 L649.9 471.88 L655.43 471.88 L655.43 471.88 L660.95 471.88 L660.95 471.88 L666.48 471.88 L666.48 471.88 L672 471.88 L672 472.5 Z" fill="#ffff00" stroke="#000" stroke-width="0.7"/>
<path d="M395.8 472.5 L395.8 471.88 L401.32 471.88 L401.32 471.25 L406.85 471.25 L406.85 470.94 L412.37 470.94 L412.37 470.94 L417.9 470.94 L417.9 470.63 L423.42 470.63 L423.42 470.63 L428.94 470.63 L428.94 470.63 L434.47 470.63 L434.47 470.63 L439.99 470.63 L439.99 470.63 L445.52 470.63 L445.52 470.63 L451.04 470.63 L451.04 470.63 L456.56 470.63 L456.56 470.63 L462.09 470.63 L462.09 470.63 L467.61 470.63 L467.61 470.63 L473.14 470.63 L473.14 470.63 L478.66 470.63 L478.66 470.63 L484.18 470.63 L484.18 470.63 L489.71 470.63 L489.71 470.63 L495.23 470.63 L495.23 470.63 L500.76 470.63 L500.76 470.63 L506.28 470.63 L506.28 470.63 L511.8 470.63 L511.8 470.63 L517.33 470.63 L517.33 470.63 L522.85 470.63 L522.85 470.63 L528.38 470.63 L528.38 470.94 L533.9 470.94 L533.9 470.94 L539.42 470.94 L539.42 470.94 L544.95 470.94 L544.95 470.94 L550.47 470.94 L550.47 470.94 L556 470.94 L556 471.25 L561.52 471.25 L561.52 471.25 L567.04 471.25 L567.04 471.25 L572.57 471.25 L572.57 471.25 L578.09 471.25 L578.09 471.56 L583.62 471.56 L583.62 471.56 L589.14 471.56 L589.14 471.88 L594.66 471.88 L594.66 471.88 L600.19 471.88 L600.19 471.88 L605.71 471.88 L605.71 471.88 L611.24 471.88 L611.24 472.19 L616.76 472.19 L616.76 472.19 L622.28 472.19 L622.28 472.19 L627.81 472.19 L627.81 472.19 L633.33 472.19 L633.33 472.19 L638.86 472.19 L638.86 472.19 L644.38 472.19 L644.38 472.19 L649.9 472.19 L649.9 472.19 L655.43 472.19 L655.43 472.19 L660.95 472.19 L660.95 472.19 L666.48 472.19 L666.48 472.19 L672 472.19 L672 472.5 Z" fill="#000000" stroke="#000" stroke-width="0.7"/>
<path d="M395.8 472.5 L395.8 472.5 L401.32 472.5 L401.32 472.19 L406.85 472.19 L406.85 471.88 L412.37 471.88 L412.37 471.88 L417.9 471.88 L417.9 471.56 L423.42 471.56 L423.42 471.56 L428.94 471.56 L428.94 471.56 L434.47 471.56 L434.47 471.56 L439.99 471.56 L439.99 471.56 L445.52 471.56 L445.52 471.56 L451.04 471.56 L451.04 471.56 L456.56 471.56 L456.56 471.56 L462.09 471.56 L462.09 471.56 L467.61 471.56 L467.61 471.56 L473.14 471.56 L473.14 471.56 L478.66 471.56 L478.66 471.56 L484.18 471.56 L484.18 471.56 L489.71 471.56 L489.71 471.56 L495.23 471.56 L495.23 471.56 L500.76 471.56 L500.76 471.56 L506.28 471.56 L506.28 471.56 L511.8 471.56 L511.8 471.56 L517.33 471.56 L517.33 471.56 L522.85 471.56 L522.85 471.56 L528.38 471.56 L528.38 471.88 L533.9 471.88 L533.9 471.88 L539.42 471.88 L539.42 471.88 L544.95 471.88 L544.95 471.88 L550.47 471.88 L550.47 471.88 L556 471.88 L556 472.19 L561.52 472.19 L561.52 472.19 L567.04 472.19 L567.04 472.19 L572.57 472.19 L572.57 472.19 L578.09 472.19 L578.09 472.5 L583.62 472.5 L583.62 472.5 L589.14 472.5 L589.14 472.5 L594.66 472.5 L594.66 472.5 L600.19 472.5 L600.19 472.5 L605.71 472.5 L605.71 472.5 L611.24 472.5 L611.24 472.5 L616.76 472.5 L616.76 472.5 L622.28 472.5 L622.28 472.5 L627.81 472.5 L627.81 472.5 L633.33 472.5 L633.33 472.5 L638.86 472.5 L638.86 472.5 L644.38 472.5 L644.38 472.5 L649.9 472.5 L649.9 472.5 L655.43 472.5 L655.43 472.5 L660.95 472.5 L660.95 472.5 L666.48 472.5 L666.48 472.5 L672 472.5 L672 472.5 Z" fill="#cccccc" stroke="#000" stroke-width="0.7"/>
<path d="M395.8 436.66H401.32M398.56 433.32V440" stroke="#000" stroke-width="0.9"/>
<circle cx="398.56" cy="436.66" r="2.5"/>
<path d="M401.32 371.52H406.85M404.09 365.91V377.13" stroke="#000" stroke-width="0.9"/>
<circle cx="404.09" cy="371.52" r="2.5"/>
<path d="M406.85 343.47H412.37M409.61 337.13V349.81" stroke="#000" stroke-width="0.9"/>
<circle cx="409.61" cy="343.47" r="2.5"/>
<path d="M412.37 330.69H417.9M415.13 324.04V337.34" stroke="#000" stroke-width="0.9"/>
<circle cx="415.13" cy="330.69" r="2.5"/>
<path d="M417.9 316.04H423.42M420.66 309.06V323.03" stroke="#000" stroke-width="0.9"/>
<circle cx="420.66" cy="316.04" r="2.5"/>
<path d="M423.42 322.28H428.94M426.18 315.43V329.12" stroke="#000" stroke-width="0.9"/>
<circle cx="426.18" cy="322.28" r="2.5"/>
<path d="M428.94 319.78H434.47M431.71 312.88V326.68" stroke="#000" stroke-width="0.9"/>
<circle cx="431.71" cy="319.78" r="2.5"/>
<path d="M434.47 311.99H439.99M437.23 304.92V319.06" stroke="#000" stroke-width="0.9"/>
<circle cx="437.23" cy="311.99" r="2.5"/>
<path d="M439.99 326.95H445.52M442.75 320.22V333.69" stroke="#000" stroke-width="0.9"/>
<circle cx="442.75" cy="326.95" r="2.5"/>
<path d="M445.52 327.58H451.04M448.28 320.85V334.3" stroke="#000" stroke-width="0.9"/>
<circle cx="448.28" cy="327.58" r="2.5"/>
<path d="M451.04 339.42H456.56M453.8 332.98V345.86" stroke="#000" stroke-width="0.9"/>
<circle cx="453.8" cy="339.42" r="2.5"/>
<path d="M456.56 335.37H462.09M459.33 328.83V341.9" stroke="#000" stroke-width="0.9"/>
<circle cx="459.33" cy="335.37" r="2.5"/>
<path d="M462.09 347.52H467.61M464.85 341.28V353.76" stroke="#000" stroke-width="0.9"/>
<circle cx="464.85" cy="347.52" r="2.5"/>
<path d="M467.61 326.02H473.14M470.37 319.26V332.77" stroke="#000" stroke-width="0.9"/>
<circle cx="470.37" cy="326.02" r="2.5"/>
<path d="M473.14 322.9H478.66M475.9 316.07V329.73" stroke="#000" stroke-width="0.9"/>
<circle cx="475.9" cy="322.9" r="2.5"/>
<path d="M478.66 325.71H484.18M481.42 318.94V332.47" stroke="#000" stroke-width="0.9"/>
<circle cx="481.42" cy="325.71" r="2.5"/>
<path d="M484.18 345.34H489.71M486.95 339.04V351.64" stroke="#000" stroke-width="0.9"/>
<circle cx="486.95" cy="345.34" r="2.5"/>
<path d="M489.71 351.26H495.23M492.47 345.11V357.41" stroke="#000" stroke-width="0.9"/>
<circle cx="492.47" cy="351.26" r="2.5"/>
<path d="M495.23 366.85H500.76M497.99 361.11V372.58" stroke="#000" stroke-width="0.9"/>
<circle cx="497.99" cy="366.85" r="2.5"/>
<path d="M500.76 378.69H506.28M503.52 373.28V384.1" stroke="#000" stroke-width="0.9"/>
<circle cx="503.52" cy="378.69" r="2.5"/>
<path d="M506.28 388.04H511.8M509.04 382.91V393.17" stroke="#000" stroke-width="0.9"/>
<circle cx="509.04" cy="388.04" r="2.5"/>
<path d="M511.8 399.26H517.33M514.57 394.48V404.04" stroke="#000" stroke-width="0.9"/>
<circle cx="514.57" cy="399.26" r="2.5"/>
<path d="M517.33 394.89H522.85M520.09 389.98V399.81" stroke="#000" stroke-width="0.9"/>
<circle cx="520.09" cy="394.89" r="2.5"/>
<path d="M522.85 409.23H528.38M525.61 404.79V413.67" stroke="#000" stroke-width="0.9"/>
<circle cx="525.61" cy="409.23" r="2.5"/>
<path d="M528.38 423.88H533.9M531.14 419.99V427.77" stroke="#000" stroke-width="0.9"/>
<circle cx="531.14" cy="423.88" r="2.5"/>
<path d="M533.9 418.89H539.42M536.66 414.81V422.98" stroke="#000" stroke-width="0.9"/>
<circle cx="536.66" cy="418.89" r="2.5"/>
<path d="M539.42 430.43H544.95M542.19 426.8V434.05" stroke="#000" stroke-width="0.9"/>
<circle cx="542.19" cy="430.43" r="2.5"/>
<path d="M544.95 439.15H550.47M547.71 435.93V442.38" stroke="#000" stroke-width="0.9"/>
<circle cx="547.71" cy="439.15" r="2.5"/>
<path d="M550.47 441.64H556M553.23 438.54V444.75" stroke="#000" stroke-width="0.9"/>
<circle cx="553.23" cy="441.64" r="2.5"/>
<path d="M556 445.07H561.52M558.76 442.15V448" stroke="#000" stroke-width="0.9"/>
<circle cx="558.76" cy="445.07" r="2.5"/>
<path d="M561.52 443.51H567.04M564.28 440.51V446.52" stroke="#000" stroke-width="0.9"/>
<circle cx="564.28" cy="443.51" r="2.5"/>
<path d="M567.04 447.25H572.57M569.81 444.45V450.06" stroke="#000" stroke-width="0.9"/>
<circle cx="569.81" cy="447.25" r="2.5"/>
<path d="M572.57 449.12H578.09M575.33 446.43V451.82" stroke="#000" stroke-width="0.9"/>
<circle cx="575.33" cy="449.12" r="2.5"/>
<path d="M578.09 454.11H583.62M580.85 451.72V456.51" stroke="#000" stroke-width="0.9"/>
<circle cx="580.85" cy="454.11" r="2.5"/>
<path d="M583.62 456.61H589.14M586.38 454.38V458.83" stroke="#000" stroke-width="0.9"/>
<circle cx="586.38" cy="456.61" r="2.5"/>
<path d="M589.14 456.29H594.66M591.9 454.05V458.54" stroke="#000" stroke-width="0.9"/>
<circle cx="591.9" cy="456.29" r="2.5"/>
<path d="M594.66 456.61H600.19M597.43 454.38V458.83" stroke="#000" stroke-width="0.9"/>
<circle cx="597.43" cy="456.61" r="2.5"/>
<path d="M600.19 454.42H605.71M602.95 452.05V456.8" stroke="#000" stroke-width="0.9"/>
<circle cx="602.95" cy="454.42" r="2.5"/>
<path d="M605.71 455.98H611.24M608.47 453.71V458.25" stroke="#000" stroke-width="0.9"/>
<circle cx="608.47" cy="455.98" r="2.5"/>
<path d="M611.24 464.71H616.76M614 463.15V466.27" stroke="#000" stroke-width="0.9"/>
<circle cx="614" cy="464.71" r="2.5"/>
<path d="M616.76 462.21H622.28M619.52 460.42V464.01" stroke="#000" stroke-width="0.9"/>
<circle cx="619.52" cy="462.21" r="2.5"/>
<path d="M622.28 460.35H627.81M625.05 458.4V462.29" stroke="#000" stroke-width="0.9"/>
<circle cx="625.05" cy="460.35" r="2.5"/>
<path d="M627.81 465.33H633.33M630.57 463.84V466.83" stroke="#000" stroke-width="0.9"/>
<circle cx="630.57" cy="465.33" r="2.5"/>
<path d="M633.33 463.77H638.86M636.09 462.12V465.42" stroke="#000" stroke-width="0.9"/>
<circle cx="636.09" cy="463.77" r="2.5"/>
<path d="M638.86 466.58H644.38M641.62 465.22V467.94" stroke="#000" stroke-width="0.9"/>
<circle cx="641.62" cy="466.58" r="2.5"/>
<path d="M644.38 465.64H649.9M647.14 464.18V467.11" stroke="#000" stroke-width="0.9"/>
<circle cx="647.14" cy="465.64" r="2.5"/>
<path d="M649.9 465.33H655.43M652.67 463.84V466.83" stroke="#000" stroke-width="0.9"/>
<circle cx="652.67" cy="465.33" r="2.5"/>
<path d="M655.43 466.27H660.95M658.19 464.87V467.66" stroke="#000" stroke-width="0.9"/>
<circle cx="658.19" cy="466.27" r="2.5"/>
<path d="M660.95 468.14H666.48M663.71 466.97V469.3" stroke="#000" stroke-width="0.9"/>
<circle cx="663.71" cy="468.14" r="2.5"/>
<path d="M666.48 467.82H672M669.24 466.62V469.03" stroke="#000" stroke-width="0.9"/>
<circle cx="669.24" cy="467.82" r="2.5"/>
</g>
<rect x="395.8" y="285.5" width="276.2" height="187" fill="none" stroke="#000" stroke-width="1"/>
<path d="M395.8 472.5h8.4 M672 472.5h-8.4 M395.8 466.27h4.3 M672 466.27h-4.3 M395.8 460.03h4.3 M672 460.03h-4.3 M395.8 453.8h4.3 M672 453.8h-4.3 M395.8 447.57h4.3 M672 447.57h-4.3 M395.8 441.33h8.4 M672 441.33h-8.4 M395.8 435.1h4.3 M672 435.1h-4.3 M395.8 428.87h4.3 M672 428.87h-4.3 M395.8 422.63h4.3 M672 422.63h-4.3 M395.8 416.4h4.3 M672 416.4h-4.3 M395.8 410.17h8.4 M672 410.17h-8.4 M395.8 403.93h4.3 M672 403.93h-4.3 M395.8 397.7h4.3 M672 397.7h-4.3 M395.8 391.47h4.3 M672 391.47h-4.3 M395.8 385.23h4.3 M672 385.23h-4.3 M395.8 379h8.4 M672 379h-8.4 M395.8 372.77h4.3 M672 372.77h-4.3 M395.8 366.53h4.3 M672 366.53h-4.3 M395.8 360.3h4.3 M672 360.3h-4.3 M395.8 354.07h4.3 M672 354.07h-4.3 M395.8 347.83h8.4 M672 347.83h-8.4 M395.8 341.6h4.3 M672 341.6h-4.3 M395.8 335.37h4.3 M672 335.37h-4.3 M395.8 329.13h4.3 M672 329.13h-4.3 M395.8 322.9h4.3 M672 322.9h-4.3 M395.8 316.67h8.4 M672 316.67h-8.4 M395.8 310.43h4.3 M672 310.43h-4.3 M395.8 304.2h4.3 M672 304.2h-4.3 M395.8 297.97h4.3 M672 297.97h-4.3 M395.8 291.73h4.3 M672 291.73h-4.3 M395.8 285.5h8.4 M672 285.5h-8.4 M395.8 285.5v6.2 M405.01 285.5v3.2 M414.21 285.5v3.2 M423.42 285.5v3.2 M432.63 285.5v6.2 M441.83 285.5v3.2 M451.04 285.5v3.2 M460.25 285.5v3.2 M469.45 285.5v6.2 M478.66 285.5v3.2 M487.87 285.5v3.2 M497.07 285.5v3.2 M506.28 285.5v6.2 M515.49 285.5v3.2 M524.69 285.5v3.2 M533.9 285.5v3.2 M543.11 285.5v6.2 M552.31 285.5v3.2 M561.52 285.5v3.2 M570.73 285.5v3.2 M579.93 285.5v6.2 M589.14 285.5v3.2 M598.35 285.5v3.2 M607.55 285.5v3.2 M616.76 285.5v6.2 M625.97 285.5v3.2 M635.17 285.5v3.2 M644.38 285.5v3.2 M653.59 285.5v6.2 M662.79 285.5v3.2 M672 285.5v3.2" stroke="#000" stroke-width="0.9" fill="none"/>
<text transform="translate(393.9 475.7) scale(1.05 1)" class="tl" text-anchor="end">0</text>
<text transform="translate(393.9 444.53) scale(1.05 1)" class="tl" text-anchor="end">100</text>
<text transform="translate(393.9 413.37) scale(1.05 1)" class="tl" text-anchor="end">200</text>
<text transform="translate(393.9 382.2) scale(1.05 1)" class="tl" text-anchor="end">300</text>
<text transform="translate(393.9 351.03) scale(1.05 1)" class="tl" text-anchor="end">400</text>
<text transform="translate(393.9 319.87) scale(1.05 1)" class="tl" text-anchor="end">500</text>
<text transform="translate(393.9 288.7) scale(1.05 1)" class="tl" text-anchor="end">600</text>
<text transform="translate(395.8 482.7) scale(1.06 1)" class="tl" text-anchor="middle">0</text>
<text transform="translate(432.63 482.7) scale(1.06 1)" class="tl" text-anchor="middle">20</text>
<text transform="translate(469.45 482.7) scale(1.06 1)" class="tl" text-anchor="middle">40</text>
<text transform="translate(506.28 482.7) scale(1.06 1)" class="tl" text-anchor="middle">60</text>
<text transform="translate(543.11 482.7) scale(1.06 1)" class="tl" text-anchor="middle">80</text>
<text transform="translate(579.93 482.7) scale(1.06 1)" class="tl" text-anchor="middle">100</text>
<text transform="translate(616.76 482.7) scale(1.06 1)" class="tl" text-anchor="middle">120</text>
<text transform="translate(653.59 482.7) scale(1.06 1)" class="tl" text-anchor="middle">140</text>
<path d="M158.4 47.4h25.2" stroke="#000" stroke-width="0.9"/>
<circle cx="171" cy="47.4" r="2.3"/>
<text transform="translate(188.5 51.4) scale(1.07 1)" class="lg">Data</text>
<path d="M211.88 44.4 L217.38 52 L219.88 42.4 H225.08" fill="none" stroke="#000" stroke-width="0.95"/>
<text transform="translate(219.88 51.4) scale(1.07 1)" class="lg">s=7 TeV</text>
<rect x="158.4" y="54.65" width="25.2" height="7" fill="#00ff00" stroke="#000" stroke-width="1"/>
<text transform="translate(188.5 61.75) scale(1.07 1)" class="lg">A+H+J Wl<tspan class="gk">&#957;</tspan></text>
<rect x="158.4" y="65.06" width="25.2" height="7" fill="#ff0000" stroke="#000" stroke-width="1"/>
<text transform="translate(188.5 72.16) scale(1.07 1)" class="lg">multi jet</text>
<rect x="158.4" y="75.47" width="25.2" height="7" fill="#ff00ff" stroke="#000" stroke-width="1"/>
<text transform="translate(188.5 82.57) scale(1.07 1)" class="lg">W<tspan class="gk">&#964;&#957;</tspan></text>
<rect x="158.4" y="85.88" width="25.2" height="7" fill="#0000ff" stroke="#000" stroke-width="1"/>
<text transform="translate(188.5 92.98) scale(1.07 1)" class="lg">ttbar</text>
<rect x="158.4" y="96.29" width="25.2" height="7" fill="#ffff00" stroke="#000" stroke-width="1"/>
<text transform="translate(188.5 103.39) scale(1.07 1)" class="lg">Zll</text>
<rect x="158.4" y="106.7" width="25.2" height="7" fill="#000000" stroke="#000" stroke-width="1"/>
<text transform="translate(188.5 113.8) scale(1.07 1)" class="lg">single top</text>
<rect x="158.4" y="117.11" width="25.2" height="7" fill="#cccccc" stroke="#000" stroke-width="1"/>
<text transform="translate(188.5 124.21) scale(1.07 1)" class="lg">Diboson</text>
<rect x="158.4" y="127.52" width="25.2" height="7" fill="#ffffff" stroke="#000" stroke-width="1"/>
<text transform="translate(188.5 134.62) scale(1.07 1)" class="lg">Z<tspan class="gk">&#964;&#964;</tspan></text>
<path d="M508.5 48.9h25.2" stroke="#000" stroke-width="0.9"/>
<circle cx="521.1" cy="48.9" r="2.3"/>
<text transform="translate(539.1 52.9) scale(1.07 1)" class="lg">Data</text>
<path d="M562.48 45.9 L567.98 53.5 L570.48 43.9 H575.68" fill="none" stroke="#000" stroke-width="0.95"/>
<text transform="translate(570.48 52.9) scale(1.07 1)" class="lg">s=7 TeV</text>
<rect x="508.5" y="56.2" width="25.2" height="7" fill="#00ff00" stroke="#000" stroke-width="1"/>
<text transform="translate(539.1 63.3) scale(1.07 1)" class="lg">SHERPA Wl<tspan class="gk">&#957;</tspan></text>
<rect x="508.5" y="66.61" width="25.2" height="7" fill="#ff0000" stroke="#000" stroke-width="1"/>
<text transform="translate(539.1 73.71) scale(1.07 1)" class="lg">multi jet</text>
<rect x="508.5" y="77.02" width="25.2" height="7" fill="#ff00ff" stroke="#000" stroke-width="1"/>
<text transform="translate(539.1 84.12) scale(1.07 1)" class="lg">W<tspan class="gk">&#964;&#957;</tspan></text>
<rect x="508.5" y="87.43" width="25.2" height="7" fill="#0000ff" stroke="#000" stroke-width="1"/>
<text transform="translate(539.1 94.53) scale(1.07 1)" class="lg">ttbar</text>
<rect x="508.5" y="97.84" width="25.2" height="7" fill="#ffff00" stroke="#000" stroke-width="1"/>
<text transform="translate(539.1 104.94) scale(1.07 1)" class="lg">Zll</text>
<rect x="508.5" y="108.25" width="25.2" height="7" fill="#000000" stroke="#000" stroke-width="1"/>
<text transform="translate(539.1 115.35) scale(1.07 1)" class="lg">single top</text>
<rect x="508.5" y="118.66" width="25.2" height="7" fill="#cccccc" stroke="#000" stroke-width="1"/>
<text transform="translate(539.1 125.76) scale(1.07 1)" class="lg">Diboson</text>
<rect x="508.5" y="129.07" width="25.2" height="7" fill="#ffffff" stroke="#000" stroke-width="1"/>
<text transform="translate(539.1 136.17) scale(1.07 1)" class="lg">Z<tspan class="gk">&#964;&#964;</tspan></text>
<path d="M170.3 299.2h25.2" stroke="#000" stroke-width="0.9"/>
<circle cx="182.9" cy="299.2" r="2.3"/>
<text transform="translate(200.6 303.2) scale(1.07 1)" class="lg">Data</text>
<path d="M223.98 296.2 L229.48 303.8 L231.98 294.2 H237.18" fill="none" stroke="#000" stroke-width="0.95"/>
<text transform="translate(231.98 303.2) scale(1.07 1)" class="lg">s=7 TeV</text>
<rect x="170.3" y="306.25" width="25.2" height="7" fill="#00ff00" stroke="#000" stroke-width="1"/>
<text transform="translate(200.6 313.35) scale(1.07 1)" class="lg">A+H+J Wl<tspan class="gk">&#957;</tspan></text>
<rect x="170.3" y="316.73" width="25.2" height="7" fill="#ff0000" stroke="#000" stroke-width="1"/>
<text transform="translate(200.6 323.83) scale(1.07 1)" class="lg">multi jet</text>
<rect x="170.3" y="327.21" width="25.2" height="7" fill="#ff00ff" stroke="#000" stroke-width="1"/>
<text transform="translate(200.6 334.31) scale(1.07 1)" class="lg">W<tspan class="gk">&#964;&#957;</tspan></text>
<rect x="170.3" y="337.69" width="25.2" height="7" fill="#0000ff" stroke="#000" stroke-width="1"/>
<text transform="translate(200.6 344.79) scale(1.07 1)" class="lg">ttbar</text>
<rect x="170.3" y="348.17" width="25.2" height="7" fill="#ffff00" stroke="#000" stroke-width="1"/>
<text transform="translate(200.6 355.27) scale(1.07 1)" class="lg">Zll</text>
<rect x="170.3" y="358.65" width="25.2" height="7" fill="#000000" stroke="#000" stroke-width="1"/>
<text transform="translate(200.6 365.75) scale(1.07 1)" class="lg">single top</text>
<rect x="170.3" y="369.13" width="25.2" height="7" fill="#cccccc" stroke="#000" stroke-width="1"/>
<text transform="translate(200.6 376.23) scale(1.07 1)" class="lg">Diboson</text>
<rect x="170.3" y="379.61" width="25.2" height="7" fill="#ffffff" stroke="#000" stroke-width="1"/>
<text transform="translate(200.6 386.71) scale(1.07 1)" class="lg">Z<tspan class="gk">&#964;&#964;</tspan></text>
<path d="M522.2 298.7h25.2" stroke="#000" stroke-width="0.9"/>
<circle cx="534.8" cy="298.7" r="2.3"/>
<text transform="translate(552.8 302.7) scale(1.07 1)" class="lg">Data</text>
<path d="M576.18 295.7 L581.68 303.3 L584.18 293.7 H589.38" fill="none" stroke="#000" stroke-width="0.95"/>
<text transform="translate(584.18 302.7) scale(1.07 1)" class="lg">s=7 TeV</text>
<rect x="522.2" y="305.7" width="25.2" height="7" fill="#00ff00" stroke="#000" stroke-width="1"/>
<text transform="translate(552.8 312.8) scale(1.07 1)" class="lg">SHERPA Wl<tspan class="gk">&#957;</tspan></text>
<rect x="522.2" y="316.18" width="25.2" height="7" fill="#ff0000" stroke="#000" stroke-width="1"/>
<text transform="translate(552.8 323.28) scale(1.07 1)" class="lg">multi jet</text>
<rect x="522.2" y="326.66" width="25.2" height="7" fill="#ff00ff" stroke="#000" stroke-width="1"/>
<text transform="translate(552.8 333.76) scale(1.07 1)" class="lg">W<tspan class="gk">&#964;&#957;</tspan></text>
<rect x="522.2" y="337.14" width="25.2" height="7" fill="#0000ff" stroke="#000" stroke-width="1"/>
<text transform="translate(552.8 344.24) scale(1.07 1)" class="lg">ttbar</text>
<rect x="522.2" y="347.62" width="25.2" height="7" fill="#ffff00" stroke="#000" stroke-width="1"/>
<text transform="translate(552.8 354.72) scale(1.07 1)" class="lg">Zll</text>
<rect x="522.2" y="358.1" width="25.2" height="7" fill="#000000" stroke="#000" stroke-width="1"/>
<text transform="translate(552.8 365.2) scale(1.07 1)" class="lg">single top</text>
<rect x="522.2" y="368.58" width="25.2" height="7" fill="#cccccc" stroke="#000" stroke-width="1"/>
<text transform="translate(552.8 375.68) scale(1.07 1)" class="lg">Diboson</text>
<rect x="522.2" y="379.06" width="25.2" height="7" fill="#ffffff" stroke="#000" stroke-width="1"/>
<text transform="translate(552.8 386.16) scale(1.07 1)" class="lg">Z<tspan class="gk">&#964;&#964;</tspan></text>
<text transform="translate(51.3 48.6) scale(1.07 1)" class="at">ATLAS</text>
<text transform="translate(410.2 48.6) scale(1.07 1)" class="at">ATLAS</text>
<text transform="translate(52.9 303.1) scale(1.07 1)" class="at">ATLAS</text>
<text transform="translate(404.6 301.4) scale(1.07 1)" class="at">ATLAS</text>
<text transform="translate(78 116.4)" style="font-size:12.4px">Ldt=36 pb<tspan dx="0.3" dy="-7.19" style="font-size:7.44px">-1</tspan></text>
<path d="M72.5 97.4 C72.2 95.8 70.9 95.7 70.75 100.1 C70.6 107.7 69.4 113.5 69.3 121.1 C69.1 125.5 67.7 125.4 66.6 123.7" fill="none" stroke="#000" stroke-width="1.45" stroke-linecap="round"/>
<circle cx="72.5" cy="97.6" r="1.1"/><circle cx="66.7" cy="123.5" r="1.1"/>
<text transform="translate(424.3 115.1)" style="font-size:12.25px">Ldt=36 pb<tspan dx="0.3" dy="-7.1" style="font-size:7.35px">-1</tspan></text>
<path d="M418.5 96.1 C418.2 94.5 416.9 94.4 416.75 98.8 C416.6 106.56 415.4 112.44 415.3 120.2 C415.1 124.6 413.7 124.5 412.6 122.8" fill="none" stroke="#000" stroke-width="1.45" stroke-linecap="round"/>
<circle cx="418.5" cy="96.3" r="1.1"/><circle cx="412.7" cy="122.6" r="1.1"/>
<text transform="translate(238 418.4)" style="font-size:11.3px">Ldt=36 pb<tspan dx="0.3" dy="-6.55" style="font-size:6.78px">-1</tspan></text>
<path d="M232.38 400.6 C232.09 399 230.85 398.9 230.71 403.3 C230.57 410.3 229.43 415.8 229.33 422.8 C229.14 427.2 227.81 427.1 226.77 425.4" fill="none" stroke="#000" stroke-width="1.45" stroke-linecap="round"/>
<circle cx="232.38" cy="400.8" r="1.1"/><circle cx="226.86" cy="425.2" r="1.1"/>
<text transform="translate(583 420)" style="font-size:11.8px">Ldt=36 pb<tspan dx="0.3" dy="-6.84" style="font-size:7.08px">-1</tspan></text>
<path d="M576.86 401.7 C576.57 400.1 575.32 400 575.17 404.4 C575.03 411.48 573.87 417.02 573.78 424.1 C573.58 428.5 572.24 428.4 571.18 426.7" fill="none" stroke="#000" stroke-width="1.45" stroke-linecap="round"/>
<circle cx="576.86" cy="401.9" r="1.1"/><circle cx="571.27" cy="426.5" r="1.1"/>
<text transform="translate(12.1 29.4) rotate(-90) scale(1.04 1)" class="yt" text-anchor="end">Events / 0.03</text>
<text transform="translate(366.4 29.4) rotate(-90) scale(1.04 1)" class="yt" text-anchor="end">Events / 0.03</text>
<text transform="translate(12.2 285) rotate(-90) scale(1.05 1)" class="yt" text-anchor="end">Events / 3GeV</text>
<text transform="translate(366.5 285) rotate(-90) scale(1.05 1)" class="yt" text-anchor="end">Events / 3GeV</text>
<text transform="translate(317.4 241.6)" text-anchor="end" style="font-size:10.6px">&#916;<tspan dy="-4.6" style="font-size:8px">n</tspan><tspan dx="-4.6" dy="8.6" style="font-size:9.2px">jets</tspan></text>
<text transform="translate(671.9 241.6)" text-anchor="end" style="font-size:10.6px">&#916;<tspan dy="-4.6" style="font-size:8px">n</tspan><tspan dx="-4.6" dy="8.6" style="font-size:9.2px">jets</tspan></text>
<text transform="translate(318.6 497.3) scale(1.04 1)" text-anchor="end" style="font-size:12.2px">[GeV]</text>
<text transform="translate(258.4 496.7) scale(1.05 1)" style="font-size:10.8px">&#916;</text>
<text transform="translate(266.4 500.5) scale(1.05 1)" style="font-size:8.5px">jets</text>
<text transform="translate(672.9 497.3) scale(1.04 1)" text-anchor="end" style="font-size:12.2px">[GeV]</text>
<text transform="translate(612.7 496.7) scale(1.05 1)" style="font-size:10.8px">&#916;</text>
<text transform="translate(620.7 500.5) scale(1.05 1)" style="font-size:8.5px">jets</text>
<text class="pl" x="0.5" y="12.9">(a)</text>
<text class="pl" x="354.1" y="12.9">(b)</text>
<text class="pl" x="0.5" y="269">(c)</text>
<text class="pl" x="354.1" y="269.3">(d)</text>
</svg>
</body></html>
